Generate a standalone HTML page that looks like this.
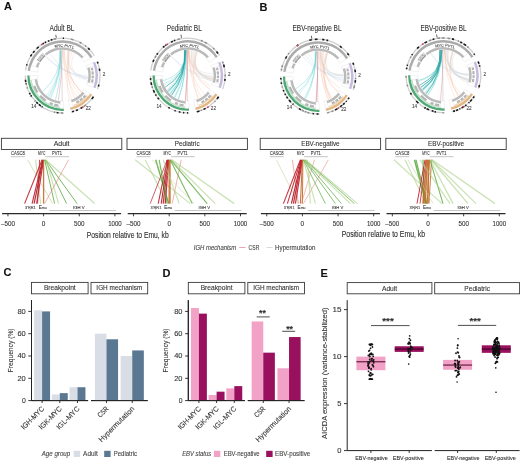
<!DOCTYPE html>
<html><head><meta charset="utf-8"><title>Figure</title>
<style>html,body{margin:0;padding:0;background:#fff;width:520px;height:462px;overflow:hidden;}svg{display:block;filter:blur(0.3px);}text{stroke:currentColor;stroke-width:0.1px;}</style>
</head><body>
<svg width="520" height="462" viewBox="0 0 520 462" font-family='"Liberation Sans", sans-serif'><text x="62" y="31" font-size="8.2" fill="#333" color="#333" text-anchor="middle" textLength="25" lengthAdjust="spacingAndGlyphs">Adult BL</text>
<path d="M25.56,70.39 A37.4,37.4 0 0 1 94.32,55.78" fill="none" stroke="#cfcfcf" stroke-width="1.3" stroke-linecap="butt"/>
<path d="M26.57,65.56 A37.4,37.4 0 0 1 27.00,64.14" fill="none" stroke="#1a1a1a" stroke-width="1.6" stroke-linecap="butt"/>
<path d="M30.47,56.45 A37.4,37.4 0 0 1 31.81,54.37" fill="none" stroke="#1a1a1a" stroke-width="1.6" stroke-linecap="butt"/>
<path d="M32.99,52.76 A37.4,37.4 0 0 1 34.51,50.91" fill="none" stroke="#1a1a1a" stroke-width="1.6" stroke-linecap="butt"/>
<path d="M36.67,48.64 A37.4,37.4 0 0 1 38.72,46.82" fill="none" stroke="#1a1a1a" stroke-width="1.6" stroke-linecap="butt"/>
<path d="M42.71,43.93 A37.4,37.4 0 0 1 43.91,43.20" fill="none" stroke="#1a1a1a" stroke-width="1.6" stroke-linecap="butt"/>
<path d="M44.82,42.70 A37.4,37.4 0 0 1 46.08,42.05" fill="none" stroke="#1a1a1a" stroke-width="1.6" stroke-linecap="butt"/>
<path d="M48.00,41.17 A37.4,37.4 0 0 1 49.33,40.63" fill="none" stroke="#1a1a1a" stroke-width="1.6" stroke-linecap="butt"/>
<path d="M50.72,40.14 A37.4,37.4 0 0 1 52.52,39.58" fill="none" stroke="#1a1a1a" stroke-width="1.6" stroke-linecap="butt"/>
<path d="M53.51,39.32 A37.4,37.4 0 0 1 56.07,38.77" fill="none" stroke="#8a8a8a" stroke-width="1.5" stroke-linecap="butt"/>
<path d="M62.77,38.20 A37.4,37.4 0 0 1 63.99,38.23" fill="none" stroke="#1a1a1a" stroke-width="1.6" stroke-linecap="butt"/>
<path d="M70.86,39.12 A37.4,37.4 0 0 1 73.38,39.79" fill="none" stroke="#8a8a8a" stroke-width="1.5" stroke-linecap="butt"/>
<path d="M79.60,42.29 A37.4,37.4 0 0 1 81.33,43.23" fill="none" stroke="#8a8a8a" stroke-width="1.5" stroke-linecap="butt"/>
<path d="M85.03,45.68 A37.4,37.4 0 0 1 86.07,46.48" fill="none" stroke="#8a8a8a" stroke-width="1.5" stroke-linecap="butt"/>
<path d="M88.03,48.18 A37.4,37.4 0 0 1 89.67,49.79" fill="none" stroke="#1a1a1a" stroke-width="1.6" stroke-linecap="butt"/>
<path d="M97.03,60.99 A37.4,37.4 0 0 1 97.52,89.00" fill="none" stroke="#cfcfcf" stroke-width="1.3" stroke-linecap="butt"/>
<path d="M97.40,61.89 A37.4,37.4 0 0 1 98.00,63.53" fill="none" stroke="#1a1a1a" stroke-width="1.6" stroke-linecap="butt"/>
<path d="M99.36,68.69 A37.4,37.4 0 0 1 99.69,70.81" fill="none" stroke="#1a1a1a" stroke-width="1.6" stroke-linecap="butt"/>
<path d="M98.90,84.60 A37.4,37.4 0 0 1 98.40,86.41" fill="none" stroke="#1a1a1a" stroke-width="1.6" stroke-linecap="butt"/>
<path d="M93.97,95.97 A37.4,37.4 0 0 1 71.01,112.04" fill="none" stroke="#cfcfcf" stroke-width="1.3" stroke-linecap="butt"/>
<path d="M93.42,96.78 A37.4,37.4 0 0 1 91.72,99.07" fill="none" stroke="#1a1a1a" stroke-width="1.6" stroke-linecap="butt"/>
<path d="M86.05,104.73 A37.4,37.4 0 0 1 84.00,106.27" fill="none" stroke="#8a8a8a" stroke-width="1.5" stroke-linecap="butt"/>
<path d="M82.11,107.51 A37.4,37.4 0 0 1 80.54,108.42" fill="none" stroke="#1a1a1a" stroke-width="1.6" stroke-linecap="butt"/>
<path d="M77.88,109.74 A37.4,37.4 0 0 1 75.95,110.54" fill="none" stroke="#1a1a1a" stroke-width="1.6" stroke-linecap="butt"/>
<path d="M73.93,111.24 A37.4,37.4 0 0 1 72.08,111.78" fill="none" stroke="#1a1a1a" stroke-width="1.6" stroke-linecap="butt"/>
<path d="M63.91,112.98 A37.4,37.4 0 0 1 25.20,75.60" fill="none" stroke="#cfcfcf" stroke-width="1.3" stroke-linecap="butt"/>
<path d="M62.93,113.00 A37.4,37.4 0 0 1 60.89,112.96" fill="none" stroke="#8a8a8a" stroke-width="1.5" stroke-linecap="butt"/>
<path d="M58.52,112.78 A37.4,37.4 0 0 1 56.66,112.53" fill="none" stroke="#1a1a1a" stroke-width="1.6" stroke-linecap="butt"/>
<path d="M55.18,112.26 A37.4,37.4 0 0 1 53.89,111.97" fill="none" stroke="#8a8a8a" stroke-width="1.5" stroke-linecap="butt"/>
<path d="M42.58,107.19 A37.4,37.4 0 0 1 41.63,106.57" fill="none" stroke="#1a1a1a" stroke-width="1.6" stroke-linecap="butt"/>
<path d="M40.80,105.99 A37.4,37.4 0 0 1 38.85,104.49" fill="none" stroke="#1a1a1a" stroke-width="1.6" stroke-linecap="butt"/>
<path d="M37.91,103.69 A37.4,37.4 0 0 1 36.30,102.19" fill="none" stroke="#1a1a1a" stroke-width="1.6" stroke-linecap="butt"/>
<path d="M35.50,101.38 A37.4,37.4 0 0 1 34.63,100.43" fill="none" stroke="#8a8a8a" stroke-width="1.5" stroke-linecap="butt"/>
<path d="M31.63,96.57 A37.4,37.4 0 0 1 30.76,95.21" fill="none" stroke="#1a1a1a" stroke-width="1.6" stroke-linecap="butt"/>
<path d="M30.23,94.33 A37.4,37.4 0 0 1 29.39,92.80" fill="none" stroke="#1a1a1a" stroke-width="1.6" stroke-linecap="butt"/>
<path d="M27.48,88.46 A37.4,37.4 0 0 1 27.03,87.15" fill="none" stroke="#8a8a8a" stroke-width="1.5" stroke-linecap="butt"/>
<path d="M26.25,84.41 A37.4,37.4 0 0 1 26.03,83.42" fill="none" stroke="#1a1a1a" stroke-width="1.6" stroke-linecap="butt"/>
<path d="M25.77,82.13 A37.4,37.4 0 0 1 25.43,79.77" fill="none" stroke="#1a1a1a" stroke-width="1.6" stroke-linecap="butt"/>
<path d="M41.15,44.96 A37.4,37.4 0 0 1 42.78,43.88" fill="none" stroke="#d04050" stroke-width="1.5" stroke-linecap="butt"/>
<path d="M83.51,106.61 A37.4,37.4 0 0 1 81.86,107.66" fill="none" stroke="#d04050" stroke-width="1.5" stroke-linecap="butt"/>
<line x1="56.30" y1="37.92" x2="55.77" y2="34.77" stroke="#222" stroke-width="0.7" stroke-linecap="butt"/>
<path d="M28.83,70.85 A34.1,34.1 0 0 1 91.52,57.53" fill="none" stroke="#ababab" stroke-width="2.5" stroke-linecap="butt"/>
<path d="M93.99,62.28 A34.1,34.1 0 0 1 94.44,87.82" fill="none" stroke="#c6bade" stroke-width="2.5" stroke-linecap="butt"/>
<path d="M91.20,94.17 A34.1,34.1 0 0 1 70.27,108.83" fill="none" stroke="#e2b682" stroke-width="2.5" stroke-linecap="butt"/>
<path d="M63.79,109.68 A34.1,34.1 0 0 1 28.50,75.60" fill="none" stroke="#4fa873" stroke-width="2.5" stroke-linecap="butt"/>
<path d="M63.16,107.60 A32.0,32.0 0 0 1 30.60,76.16" fill="none" stroke="#bfe3cb" stroke-width="1.7" stroke-linecap="butt"/>
<path d="M89.13,93.49 A32.0,32.0 0 0 1 73.54,105.67" fill="none" stroke="#f1d6b6" stroke-width="1.5" stroke-linecap="butt"/>
<text x="103.99" y="76.12" font-size="4.6" fill="#444" color="#444" text-anchor="middle">2</text>
<text x="88.21" y="109.98" font-size="4.6" fill="#444" color="#444" text-anchor="middle">22</text>
<text x="33.82" y="108.06" font-size="4.6" fill="#444" color="#444" text-anchor="middle">14</text>
<path d="M30.12,71.04 A32.800000000000004,32.800000000000004 0 0 1 31.41,65.46 L38.63,67.81 A25.2,25.2 0 0 0 37.65,72.09 Z" fill="#fff" stroke="#dadada" stroke-width="0.35"/>
<path d="M86.98,53.65 A32.800000000000004,32.800000000000004 0 0 1 90.42,58.22 L83.97,62.25 A25.2,25.2 0 0 0 81.33,58.74 Z" fill="#fff" stroke="#dadada" stroke-width="0.35"/>
<path d="M92.79,62.78 A32.800000000000004,32.800000000000004 0 0 1 93.97,66.01 L86.70,68.23 A25.2,25.2 0 0 0 85.80,65.75 Z" fill="#fff" stroke="#dadada" stroke-width="0.35"/>
<path d="M94.28,84.09 A32.800000000000004,32.800000000000004 0 0 1 93.22,87.35 L86.13,84.63 A25.2,25.2 0 0 0 86.94,82.12 Z" fill="#fff" stroke="#dadada" stroke-width="0.35"/>
<path d="M90.11,93.46 A32.800000000000004,32.800000000000004 0 0 1 88.09,96.24 L82.18,91.46 A25.2,25.2 0 0 0 83.73,89.32 Z" fill="#fff" stroke="#dadada" stroke-width="0.35"/>
<path d="M73.28,106.61 A32.800000000000004,32.800000000000004 0 0 1 69.98,107.56 L68.27,100.15 A25.2,25.2 0 0 0 70.80,99.43 Z" fill="#fff" stroke="#dadada" stroke-width="0.35"/>
<path d="M63.74,108.38 A32.800000000000004,32.800000000000004 0 0 1 59.74,108.28 L60.40,100.70 A25.2,25.2 0 0 0 63.48,100.78 Z" fill="#fff" stroke="#dadada" stroke-width="0.35"/>
<path d="M30.12,80.16 A32.800000000000004,32.800000000000004 0 0 1 29.80,75.60 L37.40,75.60 A25.2,25.2 0 0 0 37.65,79.11 Z" fill="#fff" stroke="#dadada" stroke-width="0.35"/>
<path d="M91.77,67.78 A30.2,30.2 0 0 1 92.34,70.36" fill="none" stroke="#b4b4b4" stroke-width="2.2" stroke-linecap="butt"/>
<path d="M92.51,71.40 A30.2,30.2 0 0 1 92.78,74.55" fill="none" stroke="#b4b4b4" stroke-width="2.2" stroke-linecap="butt"/>
<path d="M92.80,75.60 A30.2,30.2 0 0 1 92.69,78.23" fill="none" stroke="#b4b4b4" stroke-width="2.2" stroke-linecap="butt"/>
<path d="M92.57,79.28 A30.2,30.2 0 0 1 92.03,82.39" fill="none" stroke="#b4b4b4" stroke-width="2.2" stroke-linecap="butt"/>
<path d="M85.39,95.41 A30.2,30.2 0 0 1 83.20,97.69" fill="none" stroke="#b4b4b4" stroke-width="2.2" stroke-linecap="butt"/>
<path d="M82.41,98.39 A30.2,30.2 0 0 1 79.92,100.34" fill="none" stroke="#b4b4b4" stroke-width="2.2" stroke-linecap="butt"/>
<path d="M79.05,100.93 A30.2,30.2 0 0 1 76.31,102.51" fill="none" stroke="#b4b4b4" stroke-width="2.2" stroke-linecap="butt"/>
<path d="M58.40,105.51 A30.2,30.2 0 0 1 54.28,104.63" fill="none" stroke="#b4b4b4" stroke-width="2.2" stroke-linecap="butt"/>
<path d="M52.77,104.15 A30.2,30.2 0 0 1 49.84,102.97" fill="none" stroke="#b4b4b4" stroke-width="2.2" stroke-linecap="butt"/>
<path d="M45.71,100.64 A30.2,30.2 0 0 1 40.16,95.81" fill="none" stroke="#b4b4b4" stroke-width="2.2" stroke-linecap="butt"/>
<path d="M37.56,92.49 A30.2,30.2 0 0 1 34.22,85.93" fill="none" stroke="#b4b4b4" stroke-width="2.2" stroke-linecap="butt"/>
<path d="M38.60,61.18 A28.0,28.0 0 0 1 44.23,54.47" fill="none" stroke="#9e9e9e" stroke-width="4.2" stroke-linecap="butt"/>
<path d="M36.92,67.26 A27.0,27.0 0 0 1 38.99,62.51" fill="none" stroke="#bababa" stroke-width="2.5" stroke-linecap="butt"/>
<path d="M45.61,54.62 A27.0,27.0 0 0 1 82.66,57.53" fill="none" stroke="#bababa" stroke-width="2.5" stroke-linecap="butt"/>
<path d="M88.42,67.71 A27.0,27.0 0 0 1 88.68,82.59" fill="none" stroke="#bababa" stroke-width="2.5" stroke-linecap="butt"/>
<path d="M83.58,92.59 A27.0,27.0 0 0 1 71.39,101.13" fill="none" stroke="#bababa" stroke-width="2.5" stroke-linecap="butt"/>
<path d="M60.25,102.50 A27.0,27.0 0 0 1 35.86,79.36" fill="none" stroke="#bababa" stroke-width="2.5" stroke-linecap="butt"/>
<text x="58.97" y="47.22" font-size="3.8" fill="#444" color="#444" text-anchor="middle" transform="rotate(-7 58.97 47.22)">MYC</text>
<text x="68.8" y="47.65" font-size="3.8" fill="#444" color="#444" text-anchor="middle" transform="rotate(12 68.8 47.65)">PVT1</text>
<text x="41.15" y="58.7" font-size="3.3" fill="#f4f4f4" color="#f4f4f4" text-anchor="middle" transform="rotate(-50 41.15 58.7)">CASC8</text>
<path d="M68.56,50.91 Q64.47,74.29 87.83,78.50" fill="none" stroke="#d2d2d2" stroke-width="0.45" stroke-opacity="0.8"/>
<path d="M74.42,53.12 Q64.83,74.36 87.93,77.42" fill="none" stroke="#d2d2d2" stroke-width="0.45" stroke-opacity="0.8"/>
<path d="M69.27,51.09 Q64.51,74.32 87.80,78.82" fill="none" stroke="#d2d2d2" stroke-width="0.45" stroke-opacity="0.8"/>
<path d="M46.14,56.25 Q63.13,74.58 87.89,77.92" fill="none" stroke="#c2d4ea" stroke-width="0.45" stroke-opacity="0.8"/>
<path d="M50.19,53.44 Q63.35,74.56 87.55,80.39" fill="none" stroke="#c2d4ea" stroke-width="0.45" stroke-opacity="0.8"/>
<path d="M45.39,56.92 Q63.09,74.51 88.00,76.07" fill="none" stroke="#c2d4ea" stroke-width="0.45" stroke-opacity="0.8"/>
<path d="M63.48,50.22 Q63.20,75.50 71.64,99.34" fill="none" stroke="#f4ad8e" stroke-width="0.4" stroke-opacity="0.6"/>
<path d="M69.28,51.10 Q64.14,75.14 81.62,92.43" fill="none" stroke="#f4ad8e" stroke-width="0.4" stroke-opacity="0.6"/>
<path d="M71.95,51.99 Q63.56,75.65 69.29,100.10" fill="none" stroke="#f4ad8e" stroke-width="0.4" stroke-opacity="0.6"/>
<path d="M68.91,51.00 Q63.69,75.47 74.46,98.06" fill="none" stroke="#f4ad8e" stroke-width="0.4" stroke-opacity="0.6"/>
<path d="M64.14,50.25 Q63.85,75.07 81.90,92.11" fill="none" stroke="#f4ad8e" stroke-width="0.4" stroke-opacity="0.6"/>
<path d="M67.72,50.72 Q64.04,75.13 81.43,92.64" fill="none" stroke="#f4ad8e" stroke-width="0.4" stroke-opacity="0.6"/>
<path d="M64.45,50.27 Q63.72,75.23 79.36,94.69" fill="none" stroke="#f4ad8e" stroke-width="0.4" stroke-opacity="0.6"/>
<path d="M62.89,50.20 Q63.45,75.35 76.54,96.83" fill="none" stroke="#f4ad8e" stroke-width="0.4" stroke-opacity="0.6"/>
<path d="M60.23,50.31 Q61.27,75.04 42.80,91.51" fill="none" stroke="#58cdd0" stroke-width="0.6" stroke-opacity="0.65"/>
<path d="M59.68,50.37 Q61.72,75.44 50.81,98.10" fill="none" stroke="#58cdd0" stroke-width="0.35" stroke-opacity="0.65"/>
<path d="M60.82,50.26 Q61.63,75.33 48.15,96.49" fill="none" stroke="#58cdd0" stroke-width="0.45" stroke-opacity="0.65"/>
<path d="M60.14,50.32 Q61.50,75.27 46.72,95.42" fill="none" stroke="#58cdd0" stroke-width="0.35" stroke-opacity="0.65"/>
<path d="M60.94,50.25 Q61.77,75.42 50.46,97.91" fill="none" stroke="#58cdd0" stroke-width="0.35" stroke-opacity="0.65"/>
<path d="M60.42,50.29 Q62.04,75.54 55.48,99.98" fill="none" stroke="#58cdd0" stroke-width="0.6" stroke-opacity="0.65"/>
<path d="M61.09,50.24 Q61.70,75.37 49.06,97.09" fill="none" stroke="#58cdd0" stroke-width="0.45" stroke-opacity="0.65"/>
<path d="M62.40,50.20 Q62.33,75.58 58.34,100.64" fill="none" stroke="#ec8e96" stroke-width="0.6" stroke-opacity="0.8"/>
<path d="M61.05,50.25 Q62.48,75.60 62.16,101.00" fill="none" stroke="#9a9a9a" stroke-width="0.5" stroke-opacity="0.7"/>
<text x="184.3" y="31" font-size="8.2" fill="#333" color="#333" text-anchor="middle" textLength="35" lengthAdjust="spacingAndGlyphs">Pediatric BL</text>
<path d="M150.76,70.29 A37.4,37.4 0 0 1 219.52,55.68" fill="none" stroke="#cfcfcf" stroke-width="1.3" stroke-linecap="butt"/>
<path d="M152.98,61.86 A37.4,37.4 0 0 1 153.88,59.75" fill="none" stroke="#1a1a1a" stroke-width="1.6" stroke-linecap="butt"/>
<path d="M154.94,57.64 A37.4,37.4 0 0 1 156.03,55.77" fill="none" stroke="#8a8a8a" stroke-width="1.5" stroke-linecap="butt"/>
<path d="M156.76,54.64 A37.4,37.4 0 0 1 157.81,53.15" fill="none" stroke="#1a1a1a" stroke-width="1.6" stroke-linecap="butt"/>
<path d="M163.07,47.44 A37.4,37.4 0 0 1 164.49,46.25" fill="none" stroke="#1a1a1a" stroke-width="1.6" stroke-linecap="butt"/>
<path d="M165.33,45.60 A37.4,37.4 0 0 1 166.16,44.99" fill="none" stroke="#1a1a1a" stroke-width="1.6" stroke-linecap="butt"/>
<path d="M170.97,42.10 A37.4,37.4 0 0 1 172.85,41.22" fill="none" stroke="#1a1a1a" stroke-width="1.6" stroke-linecap="butt"/>
<path d="M173.80,40.82 A37.4,37.4 0 0 1 175.31,40.25" fill="none" stroke="#1a1a1a" stroke-width="1.6" stroke-linecap="butt"/>
<path d="M177.35,39.59 A37.4,37.4 0 0 1 180.20,38.88" fill="none" stroke="#8a8a8a" stroke-width="1.5" stroke-linecap="butt"/>
<path d="M200.93,40.48 A37.4,37.4 0 0 1 202.68,41.19" fill="none" stroke="#8a8a8a" stroke-width="1.5" stroke-linecap="butt"/>
<path d="M204.58,42.08 A37.4,37.4 0 0 1 207.02,43.42" fill="none" stroke="#8a8a8a" stroke-width="1.5" stroke-linecap="butt"/>
<path d="M213.09,47.95 A37.4,37.4 0 0 1 214.45,49.26" fill="none" stroke="#8a8a8a" stroke-width="1.5" stroke-linecap="butt"/>
<path d="M216.52,51.54 A37.4,37.4 0 0 1 217.99,53.43" fill="none" stroke="#1a1a1a" stroke-width="1.6" stroke-linecap="butt"/>
<path d="M222.23,60.89 A37.4,37.4 0 0 1 222.72,88.90" fill="none" stroke="#cfcfcf" stroke-width="1.3" stroke-linecap="butt"/>
<path d="M222.60,61.79 A37.4,37.4 0 0 1 223.16,63.31" fill="none" stroke="#8a8a8a" stroke-width="1.5" stroke-linecap="butt"/>
<path d="M223.58,64.60 A37.4,37.4 0 0 1 224.28,67.26" fill="none" stroke="#1a1a1a" stroke-width="1.6" stroke-linecap="butt"/>
<path d="M225.18,74.44 A37.4,37.4 0 0 1 225.19,76.40" fill="none" stroke="#8a8a8a" stroke-width="1.5" stroke-linecap="butt"/>
<path d="M225.05,78.86 A37.4,37.4 0 0 1 224.80,80.98" fill="none" stroke="#1a1a1a" stroke-width="1.6" stroke-linecap="butt"/>
<path d="M219.17,95.87 A37.4,37.4 0 0 1 196.21,111.94" fill="none" stroke="#cfcfcf" stroke-width="1.3" stroke-linecap="butt"/>
<path d="M218.62,96.68 A37.4,37.4 0 0 1 216.98,98.90" fill="none" stroke="#1a1a1a" stroke-width="1.6" stroke-linecap="butt"/>
<path d="M215.23,100.93 A37.4,37.4 0 0 1 214.47,101.72" fill="none" stroke="#8a8a8a" stroke-width="1.5" stroke-linecap="butt"/>
<path d="M205.62,108.38 A37.4,37.4 0 0 1 203.49,109.45" fill="none" stroke="#1a1a1a" stroke-width="1.6" stroke-linecap="butt"/>
<path d="M201.83,110.17 A37.4,37.4 0 0 1 200.60,110.64" fill="none" stroke="#8a8a8a" stroke-width="1.5" stroke-linecap="butt"/>
<path d="M199.50,111.02 A37.4,37.4 0 0 1 196.85,111.79" fill="none" stroke="#1a1a1a" stroke-width="1.6" stroke-linecap="butt"/>
<path d="M189.11,112.88 A37.4,37.4 0 0 1 150.40,75.50" fill="none" stroke="#cfcfcf" stroke-width="1.3" stroke-linecap="butt"/>
<path d="M188.13,112.90 A37.4,37.4 0 0 1 187.11,112.89" fill="none" stroke="#1a1a1a" stroke-width="1.6" stroke-linecap="butt"/>
<path d="M184.27,112.73 A37.4,37.4 0 0 1 183.00,112.59" fill="none" stroke="#1a1a1a" stroke-width="1.6" stroke-linecap="butt"/>
<path d="M180.47,112.17 A37.4,37.4 0 0 1 178.78,111.80" fill="none" stroke="#1a1a1a" stroke-width="1.6" stroke-linecap="butt"/>
<path d="M175.67,110.88 A37.4,37.4 0 0 1 174.47,110.44" fill="none" stroke="#1a1a1a" stroke-width="1.6" stroke-linecap="butt"/>
<path d="M169.77,108.27 A37.4,37.4 0 0 1 168.35,107.44" fill="none" stroke="#1a1a1a" stroke-width="1.6" stroke-linecap="butt"/>
<path d="M158.90,99.24 A37.4,37.4 0 0 1 157.73,97.74" fill="none" stroke="#1a1a1a" stroke-width="1.6" stroke-linecap="butt"/>
<path d="M156.32,95.69 A37.4,37.4 0 0 1 155.48,94.33" fill="none" stroke="#1a1a1a" stroke-width="1.6" stroke-linecap="butt"/>
<path d="M154.52,92.57 A37.4,37.4 0 0 1 153.38,90.13" fill="none" stroke="#1a1a1a" stroke-width="1.6" stroke-linecap="butt"/>
<path d="M152.54,87.97 A37.4,37.4 0 0 1 152.00,86.31" fill="none" stroke="#8a8a8a" stroke-width="1.5" stroke-linecap="butt"/>
<path d="M151.64,85.05 A37.4,37.4 0 0 1 151.02,82.27" fill="none" stroke="#1a1a1a" stroke-width="1.6" stroke-linecap="butt"/>
<path d="M150.66,79.93 A37.4,37.4 0 0 1 150.49,78.14" fill="none" stroke="#1a1a1a" stroke-width="1.6" stroke-linecap="butt"/>
<path d="M166.35,44.86 A37.4,37.4 0 0 1 167.98,43.78" fill="none" stroke="#d04050" stroke-width="1.5" stroke-linecap="butt"/>
<path d="M208.71,106.51 A37.4,37.4 0 0 1 207.06,107.56" fill="none" stroke="#d04050" stroke-width="1.5" stroke-linecap="butt"/>
<line x1="181.50" y1="37.82" x2="180.97" y2="34.67" stroke="#222" stroke-width="0.7" stroke-linecap="butt"/>
<path d="M154.03,70.75 A34.1,34.1 0 0 1 216.72,57.43" fill="none" stroke="#ababab" stroke-width="2.5" stroke-linecap="butt"/>
<path d="M219.19,62.18 A34.1,34.1 0 0 1 219.64,87.72" fill="none" stroke="#c6bade" stroke-width="2.5" stroke-linecap="butt"/>
<path d="M216.40,94.07 A34.1,34.1 0 0 1 195.47,108.73" fill="none" stroke="#e2b682" stroke-width="2.5" stroke-linecap="butt"/>
<path d="M188.99,109.58 A34.1,34.1 0 0 1 153.70,75.50" fill="none" stroke="#4fa873" stroke-width="2.5" stroke-linecap="butt"/>
<path d="M188.36,107.50 A32.0,32.0 0 0 1 155.80,76.06" fill="none" stroke="#bfe3cb" stroke-width="1.7" stroke-linecap="butt"/>
<path d="M214.33,93.39 A32.0,32.0 0 0 1 198.74,105.57" fill="none" stroke="#f1d6b6" stroke-width="1.5" stroke-linecap="butt"/>
<text x="229.19" y="76.02" font-size="4.6" fill="#444" color="#444" text-anchor="middle">2</text>
<text x="213.41" y="109.88" font-size="4.6" fill="#444" color="#444" text-anchor="middle">22</text>
<text x="159.02" y="107.96" font-size="4.6" fill="#444" color="#444" text-anchor="middle">14</text>
<path d="M155.32,70.94 A32.800000000000004,32.800000000000004 0 0 1 156.61,65.36 L163.83,67.71 A25.2,25.2 0 0 0 162.85,71.99 Z" fill="#fff" stroke="#dadada" stroke-width="0.35"/>
<path d="M212.18,53.55 A32.800000000000004,32.800000000000004 0 0 1 215.62,58.12 L209.17,62.15 A25.2,25.2 0 0 0 206.53,58.64 Z" fill="#fff" stroke="#dadada" stroke-width="0.35"/>
<path d="M217.99,62.68 A32.800000000000004,32.800000000000004 0 0 1 219.17,65.91 L211.90,68.13 A25.2,25.2 0 0 0 211.00,65.65 Z" fill="#fff" stroke="#dadada" stroke-width="0.35"/>
<path d="M219.48,83.99 A32.800000000000004,32.800000000000004 0 0 1 218.42,87.25 L211.33,84.53 A25.2,25.2 0 0 0 212.14,82.02 Z" fill="#fff" stroke="#dadada" stroke-width="0.35"/>
<path d="M215.31,93.36 A32.800000000000004,32.800000000000004 0 0 1 213.29,96.14 L207.38,91.36 A25.2,25.2 0 0 0 208.93,89.22 Z" fill="#fff" stroke="#dadada" stroke-width="0.35"/>
<path d="M198.48,106.51 A32.800000000000004,32.800000000000004 0 0 1 195.18,107.46 L193.47,100.05 A25.2,25.2 0 0 0 196.00,99.33 Z" fill="#fff" stroke="#dadada" stroke-width="0.35"/>
<path d="M188.94,108.28 A32.800000000000004,32.800000000000004 0 0 1 184.94,108.18 L185.60,100.60 A25.2,25.2 0 0 0 188.68,100.68 Z" fill="#fff" stroke="#dadada" stroke-width="0.35"/>
<path d="M155.32,80.06 A32.800000000000004,32.800000000000004 0 0 1 155.00,75.50 L162.60,75.50 A25.2,25.2 0 0 0 162.85,79.01 Z" fill="#fff" stroke="#dadada" stroke-width="0.35"/>
<path d="M216.97,67.68 A30.2,30.2 0 0 1 217.54,70.26" fill="none" stroke="#b4b4b4" stroke-width="2.2" stroke-linecap="butt"/>
<path d="M217.71,71.30 A30.2,30.2 0 0 1 217.98,74.45" fill="none" stroke="#b4b4b4" stroke-width="2.2" stroke-linecap="butt"/>
<path d="M218.00,75.50 A30.2,30.2 0 0 1 217.89,78.13" fill="none" stroke="#b4b4b4" stroke-width="2.2" stroke-linecap="butt"/>
<path d="M217.77,79.18 A30.2,30.2 0 0 1 217.23,82.29" fill="none" stroke="#b4b4b4" stroke-width="2.2" stroke-linecap="butt"/>
<path d="M210.59,95.31 A30.2,30.2 0 0 1 208.40,97.59" fill="none" stroke="#b4b4b4" stroke-width="2.2" stroke-linecap="butt"/>
<path d="M207.61,98.29 A30.2,30.2 0 0 1 205.12,100.24" fill="none" stroke="#b4b4b4" stroke-width="2.2" stroke-linecap="butt"/>
<path d="M204.25,100.83 A30.2,30.2 0 0 1 201.51,102.41" fill="none" stroke="#b4b4b4" stroke-width="2.2" stroke-linecap="butt"/>
<path d="M183.60,105.41 A30.2,30.2 0 0 1 179.48,104.53" fill="none" stroke="#b4b4b4" stroke-width="2.2" stroke-linecap="butt"/>
<path d="M177.97,104.05 A30.2,30.2 0 0 1 175.04,102.87" fill="none" stroke="#b4b4b4" stroke-width="2.2" stroke-linecap="butt"/>
<path d="M170.91,100.54 A30.2,30.2 0 0 1 165.36,95.71" fill="none" stroke="#b4b4b4" stroke-width="2.2" stroke-linecap="butt"/>
<path d="M162.76,92.39 A30.2,30.2 0 0 1 159.42,85.83" fill="none" stroke="#b4b4b4" stroke-width="2.2" stroke-linecap="butt"/>
<path d="M163.80,61.08 A28.0,28.0 0 0 1 169.43,54.37" fill="none" stroke="#9e9e9e" stroke-width="4.2" stroke-linecap="butt"/>
<path d="M162.12,67.16 A27.0,27.0 0 0 1 164.19,62.41" fill="none" stroke="#bababa" stroke-width="2.5" stroke-linecap="butt"/>
<path d="M170.81,54.52 A27.0,27.0 0 0 1 207.86,57.43" fill="none" stroke="#bababa" stroke-width="2.5" stroke-linecap="butt"/>
<path d="M213.62,67.61 A27.0,27.0 0 0 1 213.88,82.49" fill="none" stroke="#bababa" stroke-width="2.5" stroke-linecap="butt"/>
<path d="M208.78,92.49 A27.0,27.0 0 0 1 196.59,101.03" fill="none" stroke="#bababa" stroke-width="2.5" stroke-linecap="butt"/>
<path d="M185.45,102.40 A27.0,27.0 0 0 1 161.06,79.26" fill="none" stroke="#bababa" stroke-width="2.5" stroke-linecap="butt"/>
<text x="184.17" y="47.12" font-size="3.8" fill="#444" color="#444" text-anchor="middle" transform="rotate(-7 184.17 47.12)">MYC</text>
<text x="194.0" y="47.55" font-size="3.8" fill="#444" color="#444" text-anchor="middle" transform="rotate(12 194.0 47.55)">PVT1</text>
<text x="166.35" y="58.6" font-size="3.3" fill="#f4f4f4" color="#f4f4f4" text-anchor="middle" transform="rotate(-50 166.35 58.6)">CASC8</text>
<path d="M194.05,50.88 Q189.68,74.26 212.88,79.51" fill="none" stroke="#d2d2d2" stroke-width="0.45" stroke-opacity="0.8"/>
<path d="M196.48,51.63 Q189.84,73.95 213.13,73.60" fill="none" stroke="#d2d2d2" stroke-width="0.45" stroke-opacity="0.8"/>
<path d="M187.94,50.10 Q189.33,74.02 213.19,76.27" fill="none" stroke="#d2d2d2" stroke-width="0.45" stroke-opacity="0.8"/>
<path d="M191.43,50.36 Q189.50,74.34 212.54,81.24" fill="none" stroke="#d2d2d2" stroke-width="0.45" stroke-opacity="0.8"/>
<path d="M196.79,51.74 Q189.85,74.28 212.97,78.88" fill="none" stroke="#d2d2d2" stroke-width="0.45" stroke-opacity="0.8"/>
<path d="M195.12,51.18 Q189.74,74.28 212.87,79.56" fill="none" stroke="#d2d2d2" stroke-width="0.45" stroke-opacity="0.8"/>
<path d="M171.01,56.44 Q188.31,74.46 213.14,77.18" fill="none" stroke="#c2d4ea" stroke-width="0.45" stroke-opacity="0.8"/>
<path d="M171.16,56.31 Q188.29,74.69 212.54,81.27" fill="none" stroke="#c2d4ea" stroke-width="0.45" stroke-opacity="0.8"/>
<path d="M188.37,50.11 Q188.64,75.27 201.18,97.09" fill="none" stroke="#f4ad8e" stroke-width="0.4" stroke-opacity="0.6"/>
<path d="M188.53,50.11 Q188.83,75.14 204.24,94.86" fill="none" stroke="#f4ad8e" stroke-width="0.4" stroke-opacity="0.6"/>
<path d="M191.08,50.31 Q189.30,74.78 209.50,88.70" fill="none" stroke="#f4ad8e" stroke-width="0.4" stroke-opacity="0.6"/>
<path d="M195.87,51.42 Q189.80,74.22 213.05,78.25" fill="none" stroke="#f4ad8e" stroke-width="0.4" stroke-opacity="0.6"/>
<path d="M188.39,50.11 Q188.49,75.35 198.74,98.42" fill="none" stroke="#f4ad8e" stroke-width="0.4" stroke-opacity="0.6"/>
<path d="M192.73,50.58 Q189.59,74.29 212.74,80.31" fill="none" stroke="#f4ad8e" stroke-width="0.4" stroke-opacity="0.6"/>
<path d="M197.20,51.90 Q188.97,75.48 197.91,98.80" fill="none" stroke="#f4ad8e" stroke-width="0.4" stroke-opacity="0.6"/>
<path d="M188.90,50.12 Q189.15,74.80 209.22,89.15" fill="none" stroke="#f4ad8e" stroke-width="0.4" stroke-opacity="0.6"/>
<path d="M189.12,50.13 Q189.26,74.63 210.76,86.36" fill="none" stroke="#f4ad8e" stroke-width="0.4" stroke-opacity="0.6"/>
<path d="M185.91,50.17 Q186.92,75.30 175.05,97.47" fill="none" stroke="#58cdd0" stroke-width="0.6" stroke-opacity="0.65"/>
<path d="M186.61,50.13 Q186.49,74.86 167.14,90.28" fill="none" stroke="#58cdd0" stroke-width="0.6" stroke-opacity="0.65"/>
<path d="M186.42,50.14 Q186.64,75.06 169.89,93.51" fill="none" stroke="#58cdd0" stroke-width="0.45" stroke-opacity="0.65"/>
<path d="M186.03,50.16 Q186.54,74.98 168.60,92.13" fill="none" stroke="#58cdd0" stroke-width="0.6" stroke-opacity="0.65"/>
<path d="M185.28,50.23 Q187.08,75.40 178.33,99.07" fill="none" stroke="#58cdd0" stroke-width="0.6" stroke-opacity="0.65"/>
<path d="M184.48,50.32 Q186.80,75.28 174.38,97.06" fill="none" stroke="#58cdd0" stroke-width="0.6" stroke-opacity="0.65"/>
<path d="M184.96,50.26 Q186.14,74.29 162.92,80.63" fill="none" stroke="#58cdd0" stroke-width="0.6" stroke-opacity="0.65"/>
<path d="M185.28,50.22 Q186.69,75.16 171.74,95.18" fill="none" stroke="#58cdd0" stroke-width="0.45" stroke-opacity="0.65"/>
<path d="M184.88,50.27 Q186.59,75.11 170.63,94.22" fill="none" stroke="#58cdd0" stroke-width="0.6" stroke-opacity="0.65"/>
<path d="M185.78,50.18 Q186.27,74.57 164.34,85.25" fill="none" stroke="#58cdd0" stroke-width="0.35" stroke-opacity="0.65"/>
<path d="M184.34,50.34 Q186.15,74.49 163.78,83.77" fill="none" stroke="#58cdd0" stroke-width="0.45" stroke-opacity="0.65"/>
<path d="M184.35,50.34 Q187.03,75.41 178.45,99.12" fill="none" stroke="#58cdd0" stroke-width="0.6" stroke-opacity="0.65"/>
<path d="M185.39,50.21 Q186.60,75.08 170.13,93.75" fill="none" stroke="#58cdd0" stroke-width="0.6" stroke-opacity="0.65"/>
<path d="M184.54,50.31 Q186.37,74.88 167.23,90.39" fill="none" stroke="#58cdd0" stroke-width="0.35" stroke-opacity="0.65"/>
<path d="M184.44,50.32 Q186.63,75.17 171.73,95.17" fill="none" stroke="#2a9f9c" stroke-width="0.85" stroke-opacity="0.8"/>
<path d="M185.22,50.23 Q186.46,74.94 168.09,91.52" fill="none" stroke="#2a9f9c" stroke-width="0.85" stroke-opacity="0.8"/>
<path d="M185.59,50.20 Q186.31,74.68 165.22,87.13" fill="none" stroke="#2a9f9c" stroke-width="0.85" stroke-opacity="0.8"/>
<path d="M187.82,50.10 Q187.67,75.49 185.61,100.81" fill="none" stroke="#ec8e96" stroke-width="0.6" stroke-opacity="0.8"/>
<path d="M187.52,50.10 Q187.63,75.49 185.30,100.78" fill="none" stroke="#ec8e96" stroke-width="0.6" stroke-opacity="0.8"/>
<path d="M186.25,50.15 Q187.68,75.50 187.36,100.90" fill="none" stroke="#9a9a9a" stroke-width="0.5" stroke-opacity="0.7"/>
<text x="317" y="31" font-size="8.2" fill="#333" color="#333" text-anchor="middle" textLength="49" lengthAdjust="spacingAndGlyphs">EBV-negative BL</text>
<path d="M281.16,71.39 A37.4,37.4 0 0 1 349.92,56.78" fill="none" stroke="#cfcfcf" stroke-width="1.3" stroke-linecap="butt"/>
<path d="M281.31,70.43 A37.4,37.4 0 0 1 281.58,69.01" fill="none" stroke="#8a8a8a" stroke-width="1.5" stroke-linecap="butt"/>
<path d="M281.99,67.23 A37.4,37.4 0 0 1 282.59,65.15" fill="none" stroke="#8a8a8a" stroke-width="1.5" stroke-linecap="butt"/>
<path d="M285.44,58.56 A37.4,37.4 0 0 1 286.78,56.31" fill="none" stroke="#1a1a1a" stroke-width="1.6" stroke-linecap="butt"/>
<path d="M288.17,54.31 A37.4,37.4 0 0 1 288.95,53.30" fill="none" stroke="#8a8a8a" stroke-width="1.5" stroke-linecap="butt"/>
<path d="M296.89,45.87 A37.4,37.4 0 0 1 298.20,45.00" fill="none" stroke="#1a1a1a" stroke-width="1.6" stroke-linecap="butt"/>
<path d="M309.29,40.28 A37.4,37.4 0 0 1 311.78,39.75" fill="none" stroke="#1a1a1a" stroke-width="1.6" stroke-linecap="butt"/>
<path d="M314.87,39.35 A37.4,37.4 0 0 1 317.57,39.21" fill="none" stroke="#1a1a1a" stroke-width="1.6" stroke-linecap="butt"/>
<path d="M322.23,39.42 A37.4,37.4 0 0 1 324.41,39.72" fill="none" stroke="#1a1a1a" stroke-width="1.6" stroke-linecap="butt"/>
<path d="M326.51,40.13 A37.4,37.4 0 0 1 328.19,40.56" fill="none" stroke="#1a1a1a" stroke-width="1.6" stroke-linecap="butt"/>
<path d="M339.89,46.13 A37.4,37.4 0 0 1 341.71,47.51" fill="none" stroke="#1a1a1a" stroke-width="1.6" stroke-linecap="butt"/>
<path d="M347.41,53.24 A37.4,37.4 0 0 1 348.83,55.14" fill="none" stroke="#1a1a1a" stroke-width="1.6" stroke-linecap="butt"/>
<path d="M352.63,61.99 A37.4,37.4 0 0 1 353.12,90.00" fill="none" stroke="#cfcfcf" stroke-width="1.3" stroke-linecap="butt"/>
<path d="M353.00,62.89 A37.4,37.4 0 0 1 353.71,64.87" fill="none" stroke="#1a1a1a" stroke-width="1.6" stroke-linecap="butt"/>
<path d="M354.95,69.67 A37.4,37.4 0 0 1 355.34,72.18" fill="none" stroke="#1a1a1a" stroke-width="1.6" stroke-linecap="butt"/>
<path d="M355.57,78.02 A37.4,37.4 0 0 1 355.52,79.09" fill="none" stroke="#8a8a8a" stroke-width="1.5" stroke-linecap="butt"/>
<path d="M355.43,80.17 A37.4,37.4 0 0 1 355.13,82.53" fill="none" stroke="#1a1a1a" stroke-width="1.6" stroke-linecap="butt"/>
<path d="M354.53,85.46 A37.4,37.4 0 0 1 353.74,88.25" fill="none" stroke="#8a8a8a" stroke-width="1.5" stroke-linecap="butt"/>
<path d="M349.57,96.97 A37.4,37.4 0 0 1 326.61,113.04" fill="none" stroke="#cfcfcf" stroke-width="1.3" stroke-linecap="butt"/>
<path d="M349.02,97.78 A37.4,37.4 0 0 1 348.10,99.07" fill="none" stroke="#1a1a1a" stroke-width="1.6" stroke-linecap="butt"/>
<path d="M346.63,100.90 A37.4,37.4 0 0 1 345.94,101.68" fill="none" stroke="#1a1a1a" stroke-width="1.6" stroke-linecap="butt"/>
<path d="M344.62,103.07 A37.4,37.4 0 0 1 343.04,104.56" fill="none" stroke="#1a1a1a" stroke-width="1.6" stroke-linecap="butt"/>
<path d="M342.23,105.26 A37.4,37.4 0 0 1 340.11,106.91" fill="none" stroke="#1a1a1a" stroke-width="1.6" stroke-linecap="butt"/>
<path d="M337.47,108.65 A37.4,37.4 0 0 1 335.08,109.98" fill="none" stroke="#1a1a1a" stroke-width="1.6" stroke-linecap="butt"/>
<path d="M333.24,110.84 A37.4,37.4 0 0 1 331.39,111.60" fill="none" stroke="#8a8a8a" stroke-width="1.5" stroke-linecap="butt"/>
<path d="M329.18,112.35 A37.4,37.4 0 0 1 327.25,112.89" fill="none" stroke="#8a8a8a" stroke-width="1.5" stroke-linecap="butt"/>
<path d="M319.51,113.98 A37.4,37.4 0 0 1 280.80,76.60" fill="none" stroke="#cfcfcf" stroke-width="1.3" stroke-linecap="butt"/>
<path d="M318.53,114.00 A37.4,37.4 0 0 1 316.55,113.96" fill="none" stroke="#1a1a1a" stroke-width="1.6" stroke-linecap="butt"/>
<path d="M313.94,113.76 A37.4,37.4 0 0 1 312.51,113.56" fill="none" stroke="#1a1a1a" stroke-width="1.6" stroke-linecap="butt"/>
<path d="M309.36,112.94 A37.4,37.4 0 0 1 307.43,112.41" fill="none" stroke="#8a8a8a" stroke-width="1.5" stroke-linecap="butt"/>
<path d="M306.47,112.11 A37.4,37.4 0 0 1 304.78,111.51" fill="none" stroke="#8a8a8a" stroke-width="1.5" stroke-linecap="butt"/>
<path d="M303.83,111.13 A37.4,37.4 0 0 1 301.84,110.23" fill="none" stroke="#8a8a8a" stroke-width="1.5" stroke-linecap="butt"/>
<path d="M300.84,109.73 A37.4,37.4 0 0 1 298.92,108.65" fill="none" stroke="#1a1a1a" stroke-width="1.6" stroke-linecap="butt"/>
<path d="M293.39,104.59 A37.4,37.4 0 0 1 292.64,103.90" fill="none" stroke="#1a1a1a" stroke-width="1.6" stroke-linecap="butt"/>
<path d="M290.85,102.11 A37.4,37.4 0 0 1 288.98,99.94" fill="none" stroke="#1a1a1a" stroke-width="1.6" stroke-linecap="butt"/>
<path d="M287.76,98.33 A37.4,37.4 0 0 1 286.57,96.56" fill="none" stroke="#1a1a1a" stroke-width="1.6" stroke-linecap="butt"/>
<path d="M285.64,95.00 A37.4,37.4 0 0 1 284.89,93.60" fill="none" stroke="#1a1a1a" stroke-width="1.6" stroke-linecap="butt"/>
<path d="M283.89,91.48 A37.4,37.4 0 0 1 283.30,90.03" fill="none" stroke="#1a1a1a" stroke-width="1.6" stroke-linecap="butt"/>
<path d="M282.41,87.44 A37.4,37.4 0 0 1 282.12,86.45" fill="none" stroke="#8a8a8a" stroke-width="1.5" stroke-linecap="butt"/>
<path d="M281.51,83.86 A37.4,37.4 0 0 1 281.24,82.30" fill="none" stroke="#1a1a1a" stroke-width="1.6" stroke-linecap="butt"/>
<path d="M280.91,79.50 A37.4,37.4 0 0 1 280.83,78.06" fill="none" stroke="#1a1a1a" stroke-width="1.6" stroke-linecap="butt"/>
<path d="M296.75,45.96 A37.4,37.4 0 0 1 298.38,44.88" fill="none" stroke="#d04050" stroke-width="1.5" stroke-linecap="butt"/>
<path d="M339.11,107.61 A37.4,37.4 0 0 1 337.46,108.66" fill="none" stroke="#d04050" stroke-width="1.5" stroke-linecap="butt"/>
<line x1="311.90" y1="38.92" x2="311.37" y2="35.77" stroke="#222" stroke-width="0.7" stroke-linecap="butt"/>
<path d="M284.43,71.85 A34.1,34.1 0 0 1 347.12,58.53" fill="none" stroke="#ababab" stroke-width="2.5" stroke-linecap="butt"/>
<path d="M349.59,63.28 A34.1,34.1 0 0 1 350.04,88.82" fill="none" stroke="#c6bade" stroke-width="2.5" stroke-linecap="butt"/>
<path d="M346.80,95.17 A34.1,34.1 0 0 1 325.87,109.83" fill="none" stroke="#e2b682" stroke-width="2.5" stroke-linecap="butt"/>
<path d="M319.39,110.68 A34.1,34.1 0 0 1 284.10,76.60" fill="none" stroke="#4fa873" stroke-width="2.5" stroke-linecap="butt"/>
<path d="M318.76,108.60 A32.0,32.0 0 0 1 286.20,77.16" fill="none" stroke="#bfe3cb" stroke-width="1.7" stroke-linecap="butt"/>
<path d="M344.73,94.49 A32.0,32.0 0 0 1 329.14,106.67" fill="none" stroke="#f1d6b6" stroke-width="1.5" stroke-linecap="butt"/>
<text x="359.59" y="77.12" font-size="4.6" fill="#444" color="#444" text-anchor="middle">2</text>
<text x="343.81" y="110.98" font-size="4.6" fill="#444" color="#444" text-anchor="middle">22</text>
<text x="289.42" y="109.06" font-size="4.6" fill="#444" color="#444" text-anchor="middle">14</text>
<path d="M285.72,72.04 A32.800000000000004,32.800000000000004 0 0 1 287.01,66.46 L294.23,68.81 A25.2,25.2 0 0 0 293.25,73.09 Z" fill="#fff" stroke="#dadada" stroke-width="0.35"/>
<path d="M342.58,54.65 A32.800000000000004,32.800000000000004 0 0 1 346.02,59.22 L339.57,63.25 A25.2,25.2 0 0 0 336.93,59.74 Z" fill="#fff" stroke="#dadada" stroke-width="0.35"/>
<path d="M348.39,63.78 A32.800000000000004,32.800000000000004 0 0 1 349.57,67.01 L342.30,69.23 A25.2,25.2 0 0 0 341.40,66.75 Z" fill="#fff" stroke="#dadada" stroke-width="0.35"/>
<path d="M349.88,85.09 A32.800000000000004,32.800000000000004 0 0 1 348.82,88.35 L341.73,85.63 A25.2,25.2 0 0 0 342.54,83.12 Z" fill="#fff" stroke="#dadada" stroke-width="0.35"/>
<path d="M345.71,94.46 A32.800000000000004,32.800000000000004 0 0 1 343.69,97.24 L337.78,92.46 A25.2,25.2 0 0 0 339.33,90.32 Z" fill="#fff" stroke="#dadada" stroke-width="0.35"/>
<path d="M328.88,107.61 A32.800000000000004,32.800000000000004 0 0 1 325.58,108.56 L323.87,101.15 A25.2,25.2 0 0 0 326.40,100.43 Z" fill="#fff" stroke="#dadada" stroke-width="0.35"/>
<path d="M319.34,109.38 A32.800000000000004,32.800000000000004 0 0 1 315.34,109.28 L316.00,101.70 A25.2,25.2 0 0 0 319.08,101.78 Z" fill="#fff" stroke="#dadada" stroke-width="0.35"/>
<path d="M285.72,81.16 A32.800000000000004,32.800000000000004 0 0 1 285.40,76.60 L293.00,76.60 A25.2,25.2 0 0 0 293.25,80.11 Z" fill="#fff" stroke="#dadada" stroke-width="0.35"/>
<path d="M347.37,68.78 A30.2,30.2 0 0 1 347.94,71.36" fill="none" stroke="#b4b4b4" stroke-width="2.2" stroke-linecap="butt"/>
<path d="M348.11,72.40 A30.2,30.2 0 0 1 348.38,75.55" fill="none" stroke="#b4b4b4" stroke-width="2.2" stroke-linecap="butt"/>
<path d="M348.40,76.60 A30.2,30.2 0 0 1 348.29,79.23" fill="none" stroke="#b4b4b4" stroke-width="2.2" stroke-linecap="butt"/>
<path d="M348.17,80.28 A30.2,30.2 0 0 1 347.63,83.39" fill="none" stroke="#b4b4b4" stroke-width="2.2" stroke-linecap="butt"/>
<path d="M340.99,96.41 A30.2,30.2 0 0 1 338.80,98.69" fill="none" stroke="#b4b4b4" stroke-width="2.2" stroke-linecap="butt"/>
<path d="M338.01,99.39 A30.2,30.2 0 0 1 335.52,101.34" fill="none" stroke="#b4b4b4" stroke-width="2.2" stroke-linecap="butt"/>
<path d="M334.65,101.93 A30.2,30.2 0 0 1 331.91,103.51" fill="none" stroke="#b4b4b4" stroke-width="2.2" stroke-linecap="butt"/>
<path d="M314.00,106.51 A30.2,30.2 0 0 1 309.88,105.63" fill="none" stroke="#b4b4b4" stroke-width="2.2" stroke-linecap="butt"/>
<path d="M308.37,105.15 A30.2,30.2 0 0 1 305.44,103.97" fill="none" stroke="#b4b4b4" stroke-width="2.2" stroke-linecap="butt"/>
<path d="M301.31,101.64 A30.2,30.2 0 0 1 295.76,96.81" fill="none" stroke="#b4b4b4" stroke-width="2.2" stroke-linecap="butt"/>
<path d="M293.16,93.49 A30.2,30.2 0 0 1 289.82,86.93" fill="none" stroke="#b4b4b4" stroke-width="2.2" stroke-linecap="butt"/>
<path d="M294.20,62.18 A28.0,28.0 0 0 1 299.83,55.47" fill="none" stroke="#9e9e9e" stroke-width="4.2" stroke-linecap="butt"/>
<path d="M292.52,68.26 A27.0,27.0 0 0 1 294.59,63.51" fill="none" stroke="#bababa" stroke-width="2.5" stroke-linecap="butt"/>
<path d="M301.21,55.62 A27.0,27.0 0 0 1 338.26,58.53" fill="none" stroke="#bababa" stroke-width="2.5" stroke-linecap="butt"/>
<path d="M344.02,68.71 A27.0,27.0 0 0 1 344.28,83.59" fill="none" stroke="#bababa" stroke-width="2.5" stroke-linecap="butt"/>
<path d="M339.18,93.59 A27.0,27.0 0 0 1 326.99,102.13" fill="none" stroke="#bababa" stroke-width="2.5" stroke-linecap="butt"/>
<path d="M315.85,103.50 A27.0,27.0 0 0 1 291.46,80.36" fill="none" stroke="#bababa" stroke-width="2.5" stroke-linecap="butt"/>
<text x="314.57" y="48.22" font-size="3.8" fill="#444" color="#444" text-anchor="middle" transform="rotate(-7 314.57 48.22)">MYC</text>
<text x="324.4" y="48.65" font-size="3.8" fill="#444" color="#444" text-anchor="middle" transform="rotate(12 324.4 48.65)">PVT1</text>
<text x="296.75" y="59.7" font-size="3.3" fill="#f4f4f4" color="#f4f4f4" text-anchor="middle" transform="rotate(-50 296.75 59.7)">CASC8</text>
<path d="M321.63,51.43 Q319.91,75.35 343.23,80.93" fill="none" stroke="#d2d2d2" stroke-width="0.45" stroke-opacity="0.8"/>
<path d="M327.10,52.81 Q320.21,75.54 342.84,82.78" fill="none" stroke="#d2d2d2" stroke-width="0.45" stroke-opacity="0.8"/>
<path d="M320.67,51.32 Q319.87,75.03 343.58,75.71" fill="none" stroke="#d2d2d2" stroke-width="0.45" stroke-opacity="0.8"/>
<path d="M320.16,51.28 Q319.84,75.02 343.58,75.65" fill="none" stroke="#d2d2d2" stroke-width="0.45" stroke-opacity="0.8"/>
<path d="M327.72,53.05 Q320.29,75.06 343.52,74.56" fill="none" stroke="#d2d2d2" stroke-width="0.45" stroke-opacity="0.8"/>
<path d="M304.85,54.99 Q318.92,75.28 343.60,76.28" fill="none" stroke="#c2d4ea" stroke-width="0.45" stroke-opacity="0.8"/>
<path d="M302.69,56.48 Q318.79,75.49 343.55,78.21" fill="none" stroke="#c2d4ea" stroke-width="0.45" stroke-opacity="0.8"/>
<path d="M307.85,53.41 Q319.09,75.40 343.40,79.77" fill="none" stroke="#c2d4ea" stroke-width="0.45" stroke-opacity="0.8"/>
<path d="M318.34,51.20 Q319.55,75.79 340.64,88.50" fill="none" stroke="#f4ad8e" stroke-width="0.4" stroke-opacity="0.6"/>
<path d="M319.63,51.24 Q318.89,76.48 328.27,99.92" fill="none" stroke="#f4ad8e" stroke-width="0.4" stroke-opacity="0.6"/>
<path d="M325.97,52.42 Q319.37,76.50 329.97,99.11" fill="none" stroke="#f4ad8e" stroke-width="0.4" stroke-opacity="0.6"/>
<path d="M326.12,52.47 Q319.47,76.45 331.51,98.24" fill="none" stroke="#f4ad8e" stroke-width="0.4" stroke-opacity="0.6"/>
<path d="M327.25,52.87 Q319.47,76.52 330.28,98.94" fill="none" stroke="#f4ad8e" stroke-width="0.4" stroke-opacity="0.6"/>
<path d="M320.70,51.32 Q318.99,76.47 328.84,99.67" fill="none" stroke="#f4ad8e" stroke-width="0.4" stroke-opacity="0.6"/>
<path d="M322.92,51.64 Q319.27,76.41 331.25,98.39" fill="none" stroke="#f4ad8e" stroke-width="0.4" stroke-opacity="0.6"/>
<path d="M323.66,51.79 Q319.73,76.05 338.24,92.21" fill="none" stroke="#f4ad8e" stroke-width="0.4" stroke-opacity="0.6"/>
<path d="M321.74,51.45 Q319.61,76.03 338.23,92.22" fill="none" stroke="#f4ad8e" stroke-width="0.4" stroke-opacity="0.6"/>
<path d="M315.49,51.34 Q317.29,76.41 305.75,98.74" fill="none" stroke="#58cdd0" stroke-width="0.6" stroke-opacity="0.65"/>
<path d="M316.78,51.24 Q316.78,75.81 295.88,88.73" fill="none" stroke="#58cdd0" stroke-width="0.6" stroke-opacity="0.65"/>
<path d="M315.85,51.31 Q316.93,76.11 299.44,93.72" fill="none" stroke="#58cdd0" stroke-width="0.35" stroke-opacity="0.65"/>
<path d="M315.83,51.31 Q316.86,76.02 298.19,92.25" fill="none" stroke="#58cdd0" stroke-width="0.6" stroke-opacity="0.65"/>
<path d="M315.13,51.39 Q317.20,76.37 304.55,98.02" fill="none" stroke="#58cdd0" stroke-width="0.6" stroke-opacity="0.65"/>
<path d="M317.95,51.20 Q318.05,76.59 316.00,101.90" fill="none" stroke="#ec8e96" stroke-width="0.6" stroke-opacity="0.8"/>
<path d="M317.78,51.20 Q318.06,76.60 316.32,101.93" fill="none" stroke="#ec8e96" stroke-width="0.6" stroke-opacity="0.8"/>
<path d="M316.65,51.25 Q318.08,76.60 317.76,102.00" fill="none" stroke="#9a9a9a" stroke-width="0.5" stroke-opacity="0.7"/>
<text x="443.5" y="31" font-size="8.2" fill="#333" color="#333" text-anchor="middle" textLength="46" lengthAdjust="spacingAndGlyphs">EBV-positive BL</text>
<path d="M406.36,70.09 A37.4,37.4 0 0 1 475.12,55.48" fill="none" stroke="#cfcfcf" stroke-width="1.3" stroke-linecap="butt"/>
<path d="M406.51,69.13 A37.4,37.4 0 0 1 406.78,67.71" fill="none" stroke="#1a1a1a" stroke-width="1.6" stroke-linecap="butt"/>
<path d="M407.21,65.88 A37.4,37.4 0 0 1 407.55,64.64" fill="none" stroke="#1a1a1a" stroke-width="1.6" stroke-linecap="butt"/>
<path d="M410.35,57.80 A37.4,37.4 0 0 1 411.03,56.56" fill="none" stroke="#8a8a8a" stroke-width="1.5" stroke-linecap="butt"/>
<path d="M411.87,55.19 A37.4,37.4 0 0 1 412.60,54.09" fill="none" stroke="#1a1a1a" stroke-width="1.6" stroke-linecap="butt"/>
<path d="M417.14,48.67 A37.4,37.4 0 0 1 419.01,46.94" fill="none" stroke="#1a1a1a" stroke-width="1.6" stroke-linecap="butt"/>
<path d="M424.57,42.99 A37.4,37.4 0 0 1 426.95,41.71" fill="none" stroke="#1a1a1a" stroke-width="1.6" stroke-linecap="butt"/>
<path d="M429.10,40.74 A37.4,37.4 0 0 1 431.25,39.93" fill="none" stroke="#8a8a8a" stroke-width="1.5" stroke-linecap="butt"/>
<path d="M432.57,39.50 A37.4,37.4 0 0 1 434.40,39.00" fill="none" stroke="#1a1a1a" stroke-width="1.6" stroke-linecap="butt"/>
<path d="M437.45,38.38 A37.4,37.4 0 0 1 440.11,38.05" fill="none" stroke="#8a8a8a" stroke-width="1.5" stroke-linecap="butt"/>
<path d="M441.77,37.94 A37.4,37.4 0 0 1 444.53,37.92" fill="none" stroke="#8a8a8a" stroke-width="1.5" stroke-linecap="butt"/>
<path d="M447.51,38.13 A37.4,37.4 0 0 1 450.13,38.51" fill="none" stroke="#8a8a8a" stroke-width="1.5" stroke-linecap="butt"/>
<path d="M452.01,38.90 A37.4,37.4 0 0 1 454.09,39.46" fill="none" stroke="#1a1a1a" stroke-width="1.6" stroke-linecap="butt"/>
<path d="M457.85,40.81 A37.4,37.4 0 0 1 458.84,41.23" fill="none" stroke="#8a8a8a" stroke-width="1.5" stroke-linecap="butt"/>
<path d="M460.30,41.93 A37.4,37.4 0 0 1 462.08,42.90" fill="none" stroke="#1a1a1a" stroke-width="1.6" stroke-linecap="butt"/>
<path d="M463.58,43.81 A37.4,37.4 0 0 1 465.99,45.49" fill="none" stroke="#1a1a1a" stroke-width="1.6" stroke-linecap="butt"/>
<path d="M467.49,46.69 A37.4,37.4 0 0 1 468.52,47.60" fill="none" stroke="#8a8a8a" stroke-width="1.5" stroke-linecap="butt"/>
<path d="M474.00,53.79 A37.4,37.4 0 0 1 474.61,54.70" fill="none" stroke="#1a1a1a" stroke-width="1.6" stroke-linecap="butt"/>
<path d="M477.83,60.69 A37.4,37.4 0 0 1 478.32,88.70" fill="none" stroke="#cfcfcf" stroke-width="1.3" stroke-linecap="butt"/>
<path d="M478.20,61.59 A37.4,37.4 0 0 1 478.94,63.65" fill="none" stroke="#1a1a1a" stroke-width="1.6" stroke-linecap="butt"/>
<path d="M479.44,65.31 A37.4,37.4 0 0 1 479.77,66.59" fill="none" stroke="#1a1a1a" stroke-width="1.6" stroke-linecap="butt"/>
<path d="M479.55,84.90 A37.4,37.4 0 0 1 478.80,87.37" fill="none" stroke="#1a1a1a" stroke-width="1.6" stroke-linecap="butt"/>
<path d="M474.77,95.67 A37.4,37.4 0 0 1 451.81,111.74" fill="none" stroke="#cfcfcf" stroke-width="1.3" stroke-linecap="butt"/>
<path d="M474.22,96.48 A37.4,37.4 0 0 1 473.14,97.98" fill="none" stroke="#1a1a1a" stroke-width="1.6" stroke-linecap="butt"/>
<path d="M471.98,99.42 A37.4,37.4 0 0 1 470.05,101.54" fill="none" stroke="#1a1a1a" stroke-width="1.6" stroke-linecap="butt"/>
<path d="M469.34,102.24 A37.4,37.4 0 0 1 468.56,102.97" fill="none" stroke="#1a1a1a" stroke-width="1.6" stroke-linecap="butt"/>
<path d="M466.44,104.76 A37.4,37.4 0 0 1 465.09,105.77" fill="none" stroke="#1a1a1a" stroke-width="1.6" stroke-linecap="butt"/>
<path d="M464.10,106.45 A37.4,37.4 0 0 1 461.62,107.96" fill="none" stroke="#1a1a1a" stroke-width="1.6" stroke-linecap="butt"/>
<path d="M460.34,108.64 A37.4,37.4 0 0 1 459.36,109.12" fill="none" stroke="#1a1a1a" stroke-width="1.6" stroke-linecap="butt"/>
<path d="M458.11,109.68 A37.4,37.4 0 0 1 455.97,110.53" fill="none" stroke="#1a1a1a" stroke-width="1.6" stroke-linecap="butt"/>
<path d="M454.95,110.87 A37.4,37.4 0 0 1 453.09,111.42" fill="none" stroke="#1a1a1a" stroke-width="1.6" stroke-linecap="butt"/>
<path d="M444.71,112.68 A37.4,37.4 0 0 1 406.00,75.30" fill="none" stroke="#cfcfcf" stroke-width="1.3" stroke-linecap="butt"/>
<path d="M443.73,112.70 A37.4,37.4 0 0 1 442.51,112.69" fill="none" stroke="#8a8a8a" stroke-width="1.5" stroke-linecap="butt"/>
<path d="M435.96,111.95 A37.4,37.4 0 0 1 434.54,111.64" fill="none" stroke="#1a1a1a" stroke-width="1.6" stroke-linecap="butt"/>
<path d="M433.51,111.37 A37.4,37.4 0 0 1 431.78,110.85" fill="none" stroke="#1a1a1a" stroke-width="1.6" stroke-linecap="butt"/>
<path d="M428.96,109.80 A37.4,37.4 0 0 1 426.60,108.71" fill="none" stroke="#1a1a1a" stroke-width="1.6" stroke-linecap="butt"/>
<path d="M425.66,108.23 A37.4,37.4 0 0 1 424.38,107.50" fill="none" stroke="#1a1a1a" stroke-width="1.6" stroke-linecap="butt"/>
<path d="M418.31,103.04 A37.4,37.4 0 0 1 416.23,101.00" fill="none" stroke="#1a1a1a" stroke-width="1.6" stroke-linecap="butt"/>
<path d="M411.40,94.66 A37.4,37.4 0 0 1 410.44,92.97" fill="none" stroke="#1a1a1a" stroke-width="1.6" stroke-linecap="butt"/>
<path d="M407.65,86.30 A37.4,37.4 0 0 1 407.21,84.72" fill="none" stroke="#8a8a8a" stroke-width="1.5" stroke-linecap="butt"/>
<path d="M406.07,77.60 A37.4,37.4 0 0 1 406.01,75.95" fill="none" stroke="#8a8a8a" stroke-width="1.5" stroke-linecap="butt"/>
<path d="M421.95,44.66 A37.4,37.4 0 0 1 423.58,43.58" fill="none" stroke="#d04050" stroke-width="1.5" stroke-linecap="butt"/>
<path d="M464.31,106.31 A37.4,37.4 0 0 1 462.66,107.36" fill="none" stroke="#d04050" stroke-width="1.5" stroke-linecap="butt"/>
<line x1="437.10" y1="37.62" x2="436.57" y2="34.47" stroke="#222" stroke-width="0.7" stroke-linecap="butt"/>
<path d="M409.63,70.55 A34.1,34.1 0 0 1 472.32,57.23" fill="none" stroke="#ababab" stroke-width="2.5" stroke-linecap="butt"/>
<path d="M474.79,61.98 A34.1,34.1 0 0 1 475.24,87.52" fill="none" stroke="#c6bade" stroke-width="2.5" stroke-linecap="butt"/>
<path d="M472.00,93.87 A34.1,34.1 0 0 1 451.07,108.53" fill="none" stroke="#e2b682" stroke-width="2.5" stroke-linecap="butt"/>
<path d="M444.59,109.38 A34.1,34.1 0 0 1 409.30,75.30" fill="none" stroke="#4fa873" stroke-width="2.5" stroke-linecap="butt"/>
<path d="M443.96,107.30 A32.0,32.0 0 0 1 411.40,75.86" fill="none" stroke="#bfe3cb" stroke-width="1.7" stroke-linecap="butt"/>
<path d="M469.93,93.19 A32.0,32.0 0 0 1 454.34,105.37" fill="none" stroke="#f1d6b6" stroke-width="1.5" stroke-linecap="butt"/>
<text x="484.79" y="75.82" font-size="4.6" fill="#444" color="#444" text-anchor="middle">2</text>
<text x="469.01" y="109.68" font-size="4.6" fill="#444" color="#444" text-anchor="middle">22</text>
<text x="414.62" y="107.76" font-size="4.6" fill="#444" color="#444" text-anchor="middle">14</text>
<path d="M410.92,70.74 A32.800000000000004,32.800000000000004 0 0 1 412.21,65.16 L419.43,67.51 A25.2,25.2 0 0 0 418.45,71.79 Z" fill="#fff" stroke="#dadada" stroke-width="0.35"/>
<path d="M467.78,53.35 A32.800000000000004,32.800000000000004 0 0 1 471.22,57.92 L464.77,61.95 A25.2,25.2 0 0 0 462.13,58.44 Z" fill="#fff" stroke="#dadada" stroke-width="0.35"/>
<path d="M473.59,62.48 A32.800000000000004,32.800000000000004 0 0 1 474.77,65.71 L467.50,67.93 A25.2,25.2 0 0 0 466.60,65.45 Z" fill="#fff" stroke="#dadada" stroke-width="0.35"/>
<path d="M475.08,83.79 A32.800000000000004,32.800000000000004 0 0 1 474.02,87.05 L466.93,84.33 A25.2,25.2 0 0 0 467.74,81.82 Z" fill="#fff" stroke="#dadada" stroke-width="0.35"/>
<path d="M470.91,93.16 A32.800000000000004,32.800000000000004 0 0 1 468.89,95.94 L462.98,91.16 A25.2,25.2 0 0 0 464.53,89.02 Z" fill="#fff" stroke="#dadada" stroke-width="0.35"/>
<path d="M454.08,106.31 A32.800000000000004,32.800000000000004 0 0 1 450.78,107.26 L449.07,99.85 A25.2,25.2 0 0 0 451.60,99.13 Z" fill="#fff" stroke="#dadada" stroke-width="0.35"/>
<path d="M444.54,108.08 A32.800000000000004,32.800000000000004 0 0 1 440.54,107.98 L441.20,100.40 A25.2,25.2 0 0 0 444.28,100.48 Z" fill="#fff" stroke="#dadada" stroke-width="0.35"/>
<path d="M410.92,79.86 A32.800000000000004,32.800000000000004 0 0 1 410.60,75.30 L418.20,75.30 A25.2,25.2 0 0 0 418.45,78.81 Z" fill="#fff" stroke="#dadada" stroke-width="0.35"/>
<path d="M472.57,67.48 A30.2,30.2 0 0 1 473.14,70.06" fill="none" stroke="#b4b4b4" stroke-width="2.2" stroke-linecap="butt"/>
<path d="M473.31,71.10 A30.2,30.2 0 0 1 473.58,74.25" fill="none" stroke="#b4b4b4" stroke-width="2.2" stroke-linecap="butt"/>
<path d="M473.60,75.30 A30.2,30.2 0 0 1 473.49,77.93" fill="none" stroke="#b4b4b4" stroke-width="2.2" stroke-linecap="butt"/>
<path d="M473.37,78.98 A30.2,30.2 0 0 1 472.83,82.09" fill="none" stroke="#b4b4b4" stroke-width="2.2" stroke-linecap="butt"/>
<path d="M466.19,95.11 A30.2,30.2 0 0 1 464.00,97.39" fill="none" stroke="#b4b4b4" stroke-width="2.2" stroke-linecap="butt"/>
<path d="M463.21,98.09 A30.2,30.2 0 0 1 460.72,100.04" fill="none" stroke="#b4b4b4" stroke-width="2.2" stroke-linecap="butt"/>
<path d="M459.85,100.63 A30.2,30.2 0 0 1 457.11,102.21" fill="none" stroke="#b4b4b4" stroke-width="2.2" stroke-linecap="butt"/>
<path d="M439.20,105.21 A30.2,30.2 0 0 1 435.08,104.33" fill="none" stroke="#b4b4b4" stroke-width="2.2" stroke-linecap="butt"/>
<path d="M433.57,103.85 A30.2,30.2 0 0 1 430.64,102.67" fill="none" stroke="#b4b4b4" stroke-width="2.2" stroke-linecap="butt"/>
<path d="M426.51,100.34 A30.2,30.2 0 0 1 420.96,95.51" fill="none" stroke="#b4b4b4" stroke-width="2.2" stroke-linecap="butt"/>
<path d="M418.36,92.19 A30.2,30.2 0 0 1 415.02,85.63" fill="none" stroke="#b4b4b4" stroke-width="2.2" stroke-linecap="butt"/>
<path d="M419.40,60.88 A28.0,28.0 0 0 1 425.03,54.17" fill="none" stroke="#9e9e9e" stroke-width="4.2" stroke-linecap="butt"/>
<path d="M417.72,66.96 A27.0,27.0 0 0 1 419.79,62.21" fill="none" stroke="#bababa" stroke-width="2.5" stroke-linecap="butt"/>
<path d="M426.41,54.32 A27.0,27.0 0 0 1 463.46,57.23" fill="none" stroke="#bababa" stroke-width="2.5" stroke-linecap="butt"/>
<path d="M469.22,67.41 A27.0,27.0 0 0 1 469.48,82.29" fill="none" stroke="#bababa" stroke-width="2.5" stroke-linecap="butt"/>
<path d="M464.38,92.29 A27.0,27.0 0 0 1 452.19,100.83" fill="none" stroke="#bababa" stroke-width="2.5" stroke-linecap="butt"/>
<path d="M441.05,102.20 A27.0,27.0 0 0 1 416.66,79.06" fill="none" stroke="#bababa" stroke-width="2.5" stroke-linecap="butt"/>
<text x="439.77" y="46.92" font-size="3.8" fill="#444" color="#444" text-anchor="middle" transform="rotate(-7 439.77 46.92)">MYC</text>
<text x="449.6" y="47.35" font-size="3.8" fill="#444" color="#444" text-anchor="middle" transform="rotate(12 449.6 47.35)">PVT1</text>
<text x="421.95" y="58.4" font-size="3.3" fill="#f4f4f4" color="#f4f4f4" text-anchor="middle" transform="rotate(-50 421.95 58.4)">CASC8</text>
<path d="M444.82,49.94 Q444.98,74.05 468.39,79.83" fill="none" stroke="#d2d2d2" stroke-width="0.45" stroke-opacity="0.8"/>
<path d="M451.90,51.37 Q445.37,74.30 467.76,82.49" fill="none" stroke="#d2d2d2" stroke-width="0.45" stroke-opacity="0.8"/>
<path d="M446.99,50.16 Q445.14,73.76 468.79,74.70" fill="none" stroke="#d2d2d2" stroke-width="0.45" stroke-opacity="0.8"/>
<path d="M452.92,51.75 Q445.48,74.13 468.48,79.33" fill="none" stroke="#d2d2d2" stroke-width="0.45" stroke-opacity="0.8"/>
<path d="M447.41,50.22 Q445.14,74.05 468.43,79.62" fill="none" stroke="#d2d2d2" stroke-width="0.45" stroke-opacity="0.8"/>
<path d="M448.64,50.45 Q445.20,74.13 468.22,80.67" fill="none" stroke="#d2d2d2" stroke-width="0.45" stroke-opacity="0.8"/>
<path d="M444.97,49.95 Q445.02,73.72 468.78,74.33" fill="none" stroke="#d2d2d2" stroke-width="0.45" stroke-opacity="0.8"/>
<path d="M454.95,52.68 Q445.62,73.98 468.79,75.88" fill="none" stroke="#d2d2d2" stroke-width="0.45" stroke-opacity="0.8"/>
<path d="M446.85,50.14 Q445.09,74.13 468.16,80.98" fill="none" stroke="#d2d2d2" stroke-width="0.45" stroke-opacity="0.8"/>
<path d="M431.01,53.13 Q444.18,73.92 468.78,74.41" fill="none" stroke="#c2d4ea" stroke-width="0.45" stroke-opacity="0.8"/>
<path d="M430.24,53.58 Q444.12,74.22 468.54,78.96" fill="none" stroke="#c2d4ea" stroke-width="0.45" stroke-opacity="0.8"/>
<path d="M445.01,49.95 Q444.19,75.13 455.01,97.89" fill="none" stroke="#f4ad8e" stroke-width="0.4" stroke-opacity="0.6"/>
<path d="M444.60,49.93 Q444.41,74.98 459.11,95.26" fill="none" stroke="#f4ad8e" stroke-width="0.4" stroke-opacity="0.6"/>
<path d="M444.21,49.91 Q444.49,74.89 460.67,93.92" fill="none" stroke="#f4ad8e" stroke-width="0.4" stroke-opacity="0.6"/>
<path d="M452.72,51.67 Q444.85,75.12 458.28,95.88" fill="none" stroke="#f4ad8e" stroke-width="0.4" stroke-opacity="0.6"/>
<path d="M452.83,51.71 Q444.83,75.14 457.84,96.20" fill="none" stroke="#f4ad8e" stroke-width="0.4" stroke-opacity="0.6"/>
<path d="M441.47,49.97 Q441.79,74.09 418.53,80.47" fill="none" stroke="#58cdd0" stroke-width="0.6" stroke-opacity="0.65"/>
<path d="M442.21,49.93 Q441.97,74.48 420.83,86.96" fill="none" stroke="#58cdd0" stroke-width="0.6" stroke-opacity="0.65"/>
<path d="M441.54,49.97 Q442.28,74.92 426.54,94.29" fill="none" stroke="#58cdd0" stroke-width="0.35" stroke-opacity="0.65"/>
<path d="M441.84,49.95 Q442.02,74.59 421.91,88.84" fill="none" stroke="#58cdd0" stroke-width="0.6" stroke-opacity="0.65"/>
<path d="M440.38,50.08 Q441.96,74.64 422.35,89.51" fill="none" stroke="#58cdd0" stroke-width="0.35" stroke-opacity="0.65"/>
<path d="M441.15,50.00 Q442.15,74.82 424.85,92.65" fill="none" stroke="#58cdd0" stroke-width="0.45" stroke-opacity="0.65"/>
<path d="M440.13,50.11 Q441.73,74.17 418.82,81.72" fill="none" stroke="#58cdd0" stroke-width="0.35" stroke-opacity="0.65"/>
<path d="M440.60,50.05 Q442.29,74.98 427.67,95.24" fill="none" stroke="#58cdd0" stroke-width="0.35" stroke-opacity="0.65"/>
<path d="M441.82,49.95 Q442.37,74.98 427.75,95.31" fill="none" stroke="#58cdd0" stroke-width="0.6" stroke-opacity="0.65"/>
<path d="M441.41,49.98 Q442.04,74.66 422.71,90.04" fill="none" stroke="#58cdd0" stroke-width="0.6" stroke-opacity="0.65"/>
<path d="M440.31,50.09 Q442.01,74.72 423.25,90.76" fill="none" stroke="#58cdd0" stroke-width="0.45" stroke-opacity="0.65"/>
<path d="M441.15,50.00 Q442.01,74.65 422.55,89.81" fill="none" stroke="#58cdd0" stroke-width="0.6" stroke-opacity="0.65"/>
<path d="M442.05,49.94 Q442.23,74.84 425.26,93.08" fill="none" stroke="#58cdd0" stroke-width="0.45" stroke-opacity="0.65"/>
<path d="M440.49,50.07 Q441.74,74.11 418.57,80.64" fill="none" stroke="#58cdd0" stroke-width="0.45" stroke-opacity="0.65"/>
<path d="M440.01,50.13 Q442.15,74.90 426.02,93.83" fill="none" stroke="#2a9f9c" stroke-width="0.85" stroke-opacity="0.8"/>
<path d="M441.41,49.98 Q441.94,74.51 421.06,87.39" fill="none" stroke="#2a9f9c" stroke-width="0.85" stroke-opacity="0.8"/>
<path d="M439.91,50.14 Q441.78,74.38 419.97,85.10" fill="none" stroke="#2a9f9c" stroke-width="0.85" stroke-opacity="0.8"/>
<path d="M441.95,49.94 Q442.06,74.65 422.54,89.80" fill="none" stroke="#2a9f9c" stroke-width="0.85" stroke-opacity="0.8"/>
<path d="M443.13,49.90 Q443.21,75.29 440.50,100.53" fill="none" stroke="#ec8e96" stroke-width="0.6" stroke-opacity="0.8"/>
<path d="M441.85,49.95 Q443.28,75.30 442.96,100.70" fill="none" stroke="#9a9a9a" stroke-width="0.5" stroke-opacity="0.7"/>
<text x="4" y="9.8" font-size="11" fill="#111" color="#111" font-weight="bold">A</text>
<text x="259.6" y="10.6" font-size="11" fill="#111" color="#111" font-weight="bold">B</text>
<text x="3.6" y="276.2" font-size="11" fill="#111" color="#111" font-weight="bold">C</text>
<text x="162.6" y="277" font-size="11" fill="#111" color="#111" font-weight="bold">D</text>
<text x="320.6" y="277.2" font-size="11" fill="#111" color="#111" font-weight="bold">E</text>
<rect x="1.40" y="138.30" width="120.40" height="11.20" fill="#fff" stroke="#3a3a3a" stroke-width="0.9"/>
<text x="61.6" y="146.3" font-size="7" fill="#333" color="#333" text-anchor="middle" textLength="15.8" lengthAdjust="spacingAndGlyphs">Adult</text>
<text x="10.899999999999999" y="155.4" font-size="4.7" fill="#3a3a3a" color="#3a3a3a" textLength="14" lengthAdjust="spacingAndGlyphs">CASC8</text>
<line x1="10.90" y1="156.70" x2="24.90" y2="156.70" stroke="#888" stroke-width="0.5" stroke-linecap="butt"/>
<text x="37.9" y="155.4" font-size="4.7" fill="#3a3a3a" color="#3a3a3a" textLength="7.4" lengthAdjust="spacingAndGlyphs">MYC</text>
<line x1="45.30" y1="156.70" x2="47.60" y2="156.70" stroke="#888" stroke-width="0.5" stroke-linecap="butt"/>
<text x="52.0" y="155.4" font-size="4.7" fill="#3a3a3a" color="#3a3a3a" textLength="10" lengthAdjust="spacingAndGlyphs">PVT1</text>
<line x1="47.60" y1="156.70" x2="69.10" y2="156.70" stroke="#888" stroke-width="0.5" stroke-linecap="butt"/>
<line x1="27.60" y1="159.80" x2="52.60" y2="203.60" stroke="#c9d6a0" stroke-width="0.8" stroke-opacity="0.9" stroke-linecap="butt"/>
<line x1="35.60" y1="159.80" x2="40.60" y2="203.60" stroke="#a9cf86" stroke-width="1.2" stroke-opacity="0.6" stroke-linecap="butt"/>
<line x1="42.10" y1="159.80" x2="24.60" y2="203.60" stroke="#c21f2e" stroke-width="1.1" stroke-opacity="0.9" stroke-linecap="butt"/>
<line x1="42.60" y1="159.80" x2="32.10" y2="203.60" stroke="#c21f2e" stroke-width="1.2" stroke-opacity="0.9" stroke-linecap="butt"/>
<line x1="43.10" y1="159.80" x2="34.10" y2="203.60" stroke="#a61c26" stroke-width="1.2" stroke-opacity="0.9" stroke-linecap="butt"/>
<line x1="43.60" y1="159.80" x2="36.60" y2="203.60" stroke="#c21f2e" stroke-width="1.2" stroke-opacity="0.9" stroke-linecap="butt"/>
<line x1="43.60" y1="159.80" x2="43.60" y2="203.60" stroke="#c26a2a" stroke-width="1.3" stroke-opacity="0.9" stroke-linecap="butt"/>
<line x1="44.60" y1="159.80" x2="54.60" y2="203.60" stroke="#5aa83c" stroke-width="1.0" stroke-opacity="0.8" stroke-linecap="butt"/>
<line x1="45.10" y1="159.80" x2="66.60" y2="203.60" stroke="#5aa83c" stroke-width="1.0" stroke-opacity="0.8" stroke-linecap="butt"/>
<line x1="45.60" y1="159.80" x2="77.10" y2="203.60" stroke="#5aa83c" stroke-width="1.0" stroke-opacity="0.8" stroke-linecap="butt"/>
<line x1="45.60" y1="159.80" x2="94.60" y2="203.60" stroke="#a9cf86" stroke-width="1.3" stroke-opacity="0.6" stroke-linecap="butt"/>
<line x1="46.10" y1="159.80" x2="58.60" y2="203.60" stroke="#a9cf86" stroke-width="1.2" stroke-opacity="0.6" stroke-linecap="butt"/>
<line x1="68.60" y1="159.80" x2="44.60" y2="203.60" stroke="#e0746a" stroke-width="0.6" stroke-opacity="0.9" stroke-linecap="butt"/>
<line x1="39.60" y1="159.80" x2="37.60" y2="203.60" stroke="#c21f2e" stroke-width="0.9" stroke-opacity="0.9" stroke-linecap="butt"/>
<text x="25.0" y="208.6" font-size="4.3" fill="#3a3a3a" color="#3a3a3a" textLength="10.8" lengthAdjust="spacingAndGlyphs">3'RR1</text>
<line x1="30.10" y1="209.30" x2="30.10" y2="210.80" stroke="#888" stroke-width="0.5" stroke-linecap="butt"/>
<text x="38.7" y="208.6" font-size="4.6" fill="#3a3a3a" color="#3a3a3a">E</text>
<text x="41.9" y="208.8" font-size="3.4" fill="#3a3a3a" color="#3a3a3a">mu</text>
<text x="73.0" y="208.6" font-size="4.4" fill="#3a3a3a" color="#3a3a3a" textLength="11.5" lengthAdjust="spacingAndGlyphs">IGH V</text>
<line x1="49.20" y1="210.50" x2="115.90" y2="210.50" stroke="#888" stroke-width="0.5" stroke-linecap="butt"/>
<line x1="2.10" y1="213.70" x2="121.10" y2="213.70" stroke="#2a2a2a" stroke-width="1.2" stroke-linecap="butt"/>
<line x1="7.95" y1="213.70" x2="7.95" y2="216.30" stroke="#2a2a2a" stroke-width="0.9" stroke-linecap="butt"/>
<text x="7.95" y="226" font-size="6.4" fill="#333" color="#333" text-anchor="middle" textLength="14" lengthAdjust="spacingAndGlyphs">–500</text>
<line x1="43.60" y1="213.70" x2="43.60" y2="216.30" stroke="#2a2a2a" stroke-width="0.9" stroke-linecap="butt"/>
<text x="43.6" y="226" font-size="6.4" fill="#333" color="#333" text-anchor="middle" textLength="3.6" lengthAdjust="spacingAndGlyphs">0</text>
<line x1="79.25" y1="213.70" x2="79.25" y2="216.30" stroke="#2a2a2a" stroke-width="0.9" stroke-linecap="butt"/>
<text x="79.25" y="226" font-size="6.4" fill="#333" color="#333" text-anchor="middle" textLength="10.5" lengthAdjust="spacingAndGlyphs">500</text>
<line x1="114.90" y1="213.70" x2="114.90" y2="216.30" stroke="#2a2a2a" stroke-width="0.9" stroke-linecap="butt"/>
<text x="114.9" y="226" font-size="6.4" fill="#333" color="#333" text-anchor="middle" textLength="13.5" lengthAdjust="spacingAndGlyphs">1000</text>
<rect x="127.00" y="138.30" width="120.40" height="11.20" fill="#fff" stroke="#3a3a3a" stroke-width="0.9"/>
<text x="187.2" y="146.3" font-size="7" fill="#333" color="#333" text-anchor="middle" textLength="24.8" lengthAdjust="spacingAndGlyphs">Pediatric</text>
<text x="136.5" y="155.4" font-size="4.7" fill="#3a3a3a" color="#3a3a3a" textLength="14" lengthAdjust="spacingAndGlyphs">CASC8</text>
<line x1="136.50" y1="156.70" x2="150.50" y2="156.70" stroke="#888" stroke-width="0.5" stroke-linecap="butt"/>
<text x="163.5" y="155.4" font-size="4.7" fill="#3a3a3a" color="#3a3a3a" textLength="7.4" lengthAdjust="spacingAndGlyphs">MYC</text>
<line x1="170.90" y1="156.70" x2="173.20" y2="156.70" stroke="#888" stroke-width="0.5" stroke-linecap="butt"/>
<text x="177.6" y="155.4" font-size="4.7" fill="#3a3a3a" color="#3a3a3a" textLength="10" lengthAdjust="spacingAndGlyphs">PVT1</text>
<line x1="173.20" y1="156.70" x2="194.70" y2="156.70" stroke="#888" stroke-width="0.5" stroke-linecap="butt"/>
<line x1="135.20" y1="159.80" x2="190.20" y2="203.60" stroke="#a9cf86" stroke-width="1.2" stroke-opacity="0.6" stroke-linecap="butt"/>
<line x1="145.20" y1="159.80" x2="167.20" y2="203.60" stroke="#a9cf86" stroke-width="1.2" stroke-opacity="0.6" stroke-linecap="butt"/>
<line x1="155.70" y1="159.80" x2="168.70" y2="203.60" stroke="#5aa83c" stroke-width="1.4" stroke-opacity="0.85" stroke-linecap="butt"/>
<line x1="167.20" y1="159.80" x2="150.20" y2="203.60" stroke="#c21f2e" stroke-width="0.8" stroke-opacity="0.9" stroke-linecap="butt"/>
<line x1="167.20" y1="159.80" x2="158.20" y2="203.60" stroke="#c21f2e" stroke-width="1.1" stroke-opacity="0.9" stroke-linecap="butt"/>
<line x1="167.70" y1="159.80" x2="161.20" y2="203.60" stroke="#a61c26" stroke-width="1.1" stroke-opacity="0.9" stroke-linecap="butt"/>
<line x1="168.20" y1="159.80" x2="163.20" y2="203.60" stroke="#c21f2e" stroke-width="1.2" stroke-opacity="0.9" stroke-linecap="butt"/>
<line x1="168.70" y1="159.80" x2="165.20" y2="203.60" stroke="#c21f2e" stroke-width="1.3" stroke-opacity="0.9" stroke-linecap="butt"/>
<line x1="169.20" y1="159.80" x2="169.20" y2="203.60" stroke="#c26a2a" stroke-width="1.4" stroke-opacity="0.9" stroke-linecap="butt"/>
<line x1="170.20" y1="159.80" x2="170.20" y2="203.60" stroke="#c26a2a" stroke-width="1.0" stroke-opacity="0.9" stroke-linecap="butt"/>
<line x1="181.20" y1="159.80" x2="172.20" y2="203.60" stroke="#e0746a" stroke-width="0.6" stroke-opacity="0.9" stroke-linecap="butt"/>
<line x1="170.20" y1="159.80" x2="192.20" y2="203.60" stroke="#5aa83c" stroke-width="1.1" stroke-opacity="0.8" stroke-linecap="butt"/>
<line x1="170.70" y1="159.80" x2="207.20" y2="203.60" stroke="#5aa83c" stroke-width="1.1" stroke-opacity="0.8" stroke-linecap="butt"/>
<line x1="171.20" y1="159.80" x2="215.20" y2="203.60" stroke="#a9cf86" stroke-width="1.3" stroke-opacity="0.6" stroke-linecap="butt"/>
<line x1="171.70" y1="159.80" x2="234.20" y2="203.60" stroke="#a9cf86" stroke-width="1.3" stroke-opacity="0.6" stroke-linecap="butt"/>
<line x1="152.20" y1="159.80" x2="194.20" y2="203.60" stroke="#c9d6a0" stroke-width="0.7" stroke-opacity="0.8" stroke-linecap="butt"/>
<line x1="163.20" y1="159.80" x2="179.20" y2="203.60" stroke="#a9cf86" stroke-width="1.2" stroke-opacity="0.6" stroke-linecap="butt"/>
<line x1="159.20" y1="159.80" x2="167.20" y2="203.60" stroke="#5aa83c" stroke-width="1.1" stroke-opacity="0.8" stroke-linecap="butt"/>
<text x="150.6" y="208.6" font-size="4.3" fill="#3a3a3a" color="#3a3a3a" textLength="10.8" lengthAdjust="spacingAndGlyphs">3'RR1</text>
<line x1="155.70" y1="209.30" x2="155.70" y2="210.80" stroke="#888" stroke-width="0.5" stroke-linecap="butt"/>
<text x="164.29999999999998" y="208.6" font-size="4.6" fill="#3a3a3a" color="#3a3a3a">E</text>
<text x="167.5" y="208.8" font-size="3.4" fill="#3a3a3a" color="#3a3a3a">mu</text>
<text x="198.6" y="208.6" font-size="4.4" fill="#3a3a3a" color="#3a3a3a" textLength="11.5" lengthAdjust="spacingAndGlyphs">IGH V</text>
<line x1="174.80" y1="210.50" x2="241.50" y2="210.50" stroke="#888" stroke-width="0.5" stroke-linecap="butt"/>
<line x1="127.70" y1="213.70" x2="246.70" y2="213.70" stroke="#2a2a2a" stroke-width="1.2" stroke-linecap="butt"/>
<line x1="133.55" y1="213.70" x2="133.55" y2="216.30" stroke="#2a2a2a" stroke-width="0.9" stroke-linecap="butt"/>
<text x="133.55" y="226" font-size="6.4" fill="#333" color="#333" text-anchor="middle" textLength="14" lengthAdjust="spacingAndGlyphs">–500</text>
<line x1="169.20" y1="213.70" x2="169.20" y2="216.30" stroke="#2a2a2a" stroke-width="0.9" stroke-linecap="butt"/>
<text x="169.2" y="226" font-size="6.4" fill="#333" color="#333" text-anchor="middle" textLength="3.6" lengthAdjust="spacingAndGlyphs">0</text>
<line x1="204.85" y1="213.70" x2="204.85" y2="216.30" stroke="#2a2a2a" stroke-width="0.9" stroke-linecap="butt"/>
<text x="204.85" y="226" font-size="6.4" fill="#333" color="#333" text-anchor="middle" textLength="10.5" lengthAdjust="spacingAndGlyphs">500</text>
<line x1="240.50" y1="213.70" x2="240.50" y2="216.30" stroke="#2a2a2a" stroke-width="0.9" stroke-linecap="butt"/>
<text x="240.5" y="226" font-size="6.4" fill="#333" color="#333" text-anchor="middle" textLength="13.5" lengthAdjust="spacingAndGlyphs">1000</text>
<rect x="260.20" y="138.30" width="120.40" height="11.20" fill="#fff" stroke="#3a3a3a" stroke-width="0.9"/>
<text x="320.4" y="146.3" font-size="7" fill="#333" color="#333" text-anchor="middle" textLength="38.5" lengthAdjust="spacingAndGlyphs">EBV-negative</text>
<text x="269.7" y="155.4" font-size="4.7" fill="#3a3a3a" color="#3a3a3a" textLength="14" lengthAdjust="spacingAndGlyphs">CASC8</text>
<line x1="269.70" y1="156.70" x2="283.70" y2="156.70" stroke="#888" stroke-width="0.5" stroke-linecap="butt"/>
<text x="296.7" y="155.4" font-size="4.7" fill="#3a3a3a" color="#3a3a3a" textLength="7.4" lengthAdjust="spacingAndGlyphs">MYC</text>
<line x1="304.10" y1="156.70" x2="306.40" y2="156.70" stroke="#888" stroke-width="0.5" stroke-linecap="butt"/>
<text x="310.79999999999995" y="155.4" font-size="4.7" fill="#3a3a3a" color="#3a3a3a" textLength="10" lengthAdjust="spacingAndGlyphs">PVT1</text>
<line x1="306.40" y1="156.70" x2="327.90" y2="156.70" stroke="#888" stroke-width="0.5" stroke-linecap="butt"/>
<line x1="276.40" y1="159.80" x2="298.40" y2="203.60" stroke="#c9d6a0" stroke-width="0.7" stroke-opacity="0.9" stroke-linecap="butt"/>
<line x1="292.40" y1="159.80" x2="298.40" y2="203.60" stroke="#e0746a" stroke-width="0.7" stroke-opacity="0.8" stroke-linecap="butt"/>
<line x1="300.40" y1="159.80" x2="283.40" y2="203.60" stroke="#c21f2e" stroke-width="1.1" stroke-opacity="0.9" stroke-linecap="butt"/>
<line x1="300.90" y1="159.80" x2="287.40" y2="203.60" stroke="#c21f2e" stroke-width="1.1" stroke-opacity="0.9" stroke-linecap="butt"/>
<line x1="301.40" y1="159.80" x2="291.40" y2="203.60" stroke="#a61c26" stroke-width="1.2" stroke-opacity="0.9" stroke-linecap="butt"/>
<line x1="301.90" y1="159.80" x2="293.40" y2="203.60" stroke="#c21f2e" stroke-width="1.3" stroke-opacity="0.9" stroke-linecap="butt"/>
<line x1="302.40" y1="159.80" x2="295.40" y2="203.60" stroke="#c21f2e" stroke-width="1.2" stroke-opacity="0.9" stroke-linecap="butt"/>
<line x1="302.40" y1="159.80" x2="300.40" y2="203.60" stroke="#c26a2a" stroke-width="1.1" stroke-opacity="0.9" stroke-linecap="butt"/>
<line x1="302.90" y1="159.80" x2="302.40" y2="203.60" stroke="#c26a2a" stroke-width="1.0" stroke-opacity="0.9" stroke-linecap="butt"/>
<line x1="314.40" y1="159.80" x2="301.40" y2="203.60" stroke="#e0746a" stroke-width="0.6" stroke-opacity="0.8" stroke-linecap="butt"/>
<line x1="328.40" y1="159.80" x2="303.40" y2="203.60" stroke="#e0746a" stroke-width="0.6" stroke-opacity="0.8" stroke-linecap="butt"/>
<line x1="303.40" y1="159.80" x2="315.40" y2="203.60" stroke="#a9cf86" stroke-width="1.2" stroke-opacity="0.6" stroke-linecap="butt"/>
<line x1="303.40" y1="159.80" x2="325.40" y2="203.60" stroke="#5aa83c" stroke-width="0.9" stroke-opacity="0.8" stroke-linecap="butt"/>
<line x1="303.90" y1="159.80" x2="335.40" y2="203.60" stroke="#5aa83c" stroke-width="0.9" stroke-opacity="0.8" stroke-linecap="butt"/>
<line x1="304.40" y1="159.80" x2="341.40" y2="203.60" stroke="#5aa83c" stroke-width="0.9" stroke-opacity="0.8" stroke-linecap="butt"/>
<line x1="304.40" y1="159.80" x2="350.40" y2="203.60" stroke="#a9cf86" stroke-width="1.2" stroke-opacity="0.6" stroke-linecap="butt"/>
<line x1="304.90" y1="159.80" x2="354.40" y2="203.60" stroke="#5aa83c" stroke-width="0.9" stroke-opacity="0.8" stroke-linecap="butt"/>
<line x1="305.40" y1="159.80" x2="357.40" y2="203.60" stroke="#a9cf86" stroke-width="1.2" stroke-opacity="0.6" stroke-linecap="butt"/>
<line x1="307.40" y1="159.80" x2="310.40" y2="203.60" stroke="#a9cf86" stroke-width="1.1" stroke-opacity="0.6" stroke-linecap="butt"/>
<text x="283.79999999999995" y="208.6" font-size="4.3" fill="#3a3a3a" color="#3a3a3a" textLength="10.8" lengthAdjust="spacingAndGlyphs">3'RR1</text>
<line x1="288.90" y1="209.30" x2="288.90" y2="210.80" stroke="#888" stroke-width="0.5" stroke-linecap="butt"/>
<text x="297.5" y="208.6" font-size="4.6" fill="#3a3a3a" color="#3a3a3a">E</text>
<text x="300.7" y="208.8" font-size="3.4" fill="#3a3a3a" color="#3a3a3a">mu</text>
<text x="331.79999999999995" y="208.6" font-size="4.4" fill="#3a3a3a" color="#3a3a3a" textLength="11.5" lengthAdjust="spacingAndGlyphs">IGH V</text>
<line x1="308.00" y1="210.50" x2="374.70" y2="210.50" stroke="#888" stroke-width="0.5" stroke-linecap="butt"/>
<line x1="260.90" y1="213.70" x2="379.90" y2="213.70" stroke="#2a2a2a" stroke-width="1.2" stroke-linecap="butt"/>
<line x1="266.75" y1="213.70" x2="266.75" y2="216.30" stroke="#2a2a2a" stroke-width="0.9" stroke-linecap="butt"/>
<text x="266.75" y="226" font-size="6.4" fill="#333" color="#333" text-anchor="middle" textLength="14" lengthAdjust="spacingAndGlyphs">–500</text>
<line x1="302.40" y1="213.70" x2="302.40" y2="216.30" stroke="#2a2a2a" stroke-width="0.9" stroke-linecap="butt"/>
<text x="302.4" y="226" font-size="6.4" fill="#333" color="#333" text-anchor="middle" textLength="3.6" lengthAdjust="spacingAndGlyphs">0</text>
<line x1="338.05" y1="213.70" x2="338.05" y2="216.30" stroke="#2a2a2a" stroke-width="0.9" stroke-linecap="butt"/>
<text x="338.05" y="226" font-size="6.4" fill="#333" color="#333" text-anchor="middle" textLength="10.5" lengthAdjust="spacingAndGlyphs">500</text>
<line x1="373.70" y1="213.70" x2="373.70" y2="216.30" stroke="#2a2a2a" stroke-width="0.9" stroke-linecap="butt"/>
<text x="373.7" y="226" font-size="6.4" fill="#333" color="#333" text-anchor="middle" textLength="13.5" lengthAdjust="spacingAndGlyphs">1000</text>
<rect x="385.80" y="138.30" width="120.40" height="11.20" fill="#fff" stroke="#3a3a3a" stroke-width="0.9"/>
<text x="446.0" y="146.3" font-size="7" fill="#333" color="#333" text-anchor="middle" textLength="36.1" lengthAdjust="spacingAndGlyphs">EBV-positive</text>
<text x="395.3" y="155.4" font-size="4.7" fill="#3a3a3a" color="#3a3a3a" textLength="14" lengthAdjust="spacingAndGlyphs">CASC8</text>
<line x1="395.30" y1="156.70" x2="409.30" y2="156.70" stroke="#888" stroke-width="0.5" stroke-linecap="butt"/>
<text x="422.3" y="155.4" font-size="4.7" fill="#3a3a3a" color="#3a3a3a" textLength="7.4" lengthAdjust="spacingAndGlyphs">MYC</text>
<line x1="429.70" y1="156.70" x2="432.00" y2="156.70" stroke="#888" stroke-width="0.5" stroke-linecap="butt"/>
<text x="436.4" y="155.4" font-size="4.7" fill="#3a3a3a" color="#3a3a3a" textLength="10" lengthAdjust="spacingAndGlyphs">PVT1</text>
<line x1="432.00" y1="156.70" x2="453.50" y2="156.70" stroke="#888" stroke-width="0.5" stroke-linecap="butt"/>
<line x1="394.00" y1="159.80" x2="442.00" y2="203.60" stroke="#a9cf86" stroke-width="1.2" stroke-opacity="0.6" stroke-linecap="butt"/>
<line x1="405.00" y1="159.80" x2="426.00" y2="203.60" stroke="#a9cf86" stroke-width="1.2" stroke-opacity="0.6" stroke-linecap="butt"/>
<line x1="414.50" y1="159.80" x2="426.00" y2="203.60" stroke="#5aa83c" stroke-width="1.5" stroke-opacity="0.85" stroke-linecap="butt"/>
<line x1="416.00" y1="159.80" x2="427.00" y2="203.60" stroke="#5aa83c" stroke-width="1.2" stroke-opacity="0.85" stroke-linecap="butt"/>
<line x1="423.00" y1="159.80" x2="424.00" y2="203.60" stroke="#5aa83c" stroke-width="1.2" stroke-opacity="0.85" stroke-linecap="butt"/>
<line x1="425.00" y1="159.80" x2="417.00" y2="203.60" stroke="#c21f2e" stroke-width="1.0" stroke-opacity="0.9" stroke-linecap="butt"/>
<line x1="426.00" y1="159.80" x2="420.00" y2="203.60" stroke="#c21f2e" stroke-width="0.9" stroke-opacity="0.9" stroke-linecap="butt"/>
<line x1="426.50" y1="159.80" x2="423.00" y2="203.60" stroke="#c26a2a" stroke-width="1.6" stroke-opacity="0.9" stroke-linecap="butt"/>
<line x1="427.50" y1="159.80" x2="425.00" y2="203.60" stroke="#c26a2a" stroke-width="1.6" stroke-opacity="0.9" stroke-linecap="butt"/>
<line x1="428.50" y1="159.80" x2="428.00" y2="203.60" stroke="#c26a2a" stroke-width="1.4" stroke-opacity="0.9" stroke-linecap="butt"/>
<line x1="429.50" y1="159.80" x2="427.00" y2="203.60" stroke="#c26a2a" stroke-width="1.2" stroke-opacity="0.9" stroke-linecap="butt"/>
<line x1="431.50" y1="159.80" x2="429.00" y2="203.60" stroke="#c26a2a" stroke-width="1.0" stroke-opacity="0.9" stroke-linecap="butt"/>
<line x1="430.00" y1="159.80" x2="443.00" y2="203.60" stroke="#5aa83c" stroke-width="1.1" stroke-opacity="0.8" stroke-linecap="butt"/>
<line x1="430.00" y1="159.80" x2="453.00" y2="203.60" stroke="#a9cf86" stroke-width="1.3" stroke-opacity="0.6" stroke-linecap="butt"/>
<line x1="431.00" y1="159.80" x2="468.00" y2="203.60" stroke="#a9cf86" stroke-width="1.4" stroke-opacity="0.6" stroke-linecap="butt"/>
<line x1="431.50" y1="159.80" x2="476.00" y2="203.60" stroke="#a9cf86" stroke-width="1.3" stroke-opacity="0.6" stroke-linecap="butt"/>
<line x1="432.00" y1="159.80" x2="495.00" y2="203.60" stroke="#a9cf86" stroke-width="1.3" stroke-opacity="0.6" stroke-linecap="butt"/>
<line x1="408.00" y1="159.80" x2="433.00" y2="203.60" stroke="#c9d6a0" stroke-width="0.7" stroke-opacity="0.8" stroke-linecap="butt"/>
<line x1="420.00" y1="159.80" x2="450.00" y2="203.60" stroke="#a9cf86" stroke-width="1.2" stroke-opacity="0.6" stroke-linecap="butt"/>
<text x="409.4" y="208.6" font-size="4.3" fill="#3a3a3a" color="#3a3a3a" textLength="10.8" lengthAdjust="spacingAndGlyphs">3'RR1</text>
<line x1="414.50" y1="209.30" x2="414.50" y2="210.80" stroke="#888" stroke-width="0.5" stroke-linecap="butt"/>
<text x="423.1" y="208.6" font-size="4.6" fill="#3a3a3a" color="#3a3a3a">E</text>
<text x="426.3" y="208.8" font-size="3.4" fill="#3a3a3a" color="#3a3a3a">mu</text>
<text x="457.4" y="208.6" font-size="4.4" fill="#3a3a3a" color="#3a3a3a" textLength="11.5" lengthAdjust="spacingAndGlyphs">IGH V</text>
<line x1="433.60" y1="210.50" x2="500.30" y2="210.50" stroke="#888" stroke-width="0.5" stroke-linecap="butt"/>
<line x1="386.50" y1="213.70" x2="505.50" y2="213.70" stroke="#2a2a2a" stroke-width="1.2" stroke-linecap="butt"/>
<line x1="392.35" y1="213.70" x2="392.35" y2="216.30" stroke="#2a2a2a" stroke-width="0.9" stroke-linecap="butt"/>
<text x="392.35" y="226" font-size="6.4" fill="#333" color="#333" text-anchor="middle" textLength="14" lengthAdjust="spacingAndGlyphs">–500</text>
<line x1="428.00" y1="213.70" x2="428.00" y2="216.30" stroke="#2a2a2a" stroke-width="0.9" stroke-linecap="butt"/>
<text x="428.0" y="226" font-size="6.4" fill="#333" color="#333" text-anchor="middle" textLength="3.6" lengthAdjust="spacingAndGlyphs">0</text>
<line x1="463.65" y1="213.70" x2="463.65" y2="216.30" stroke="#2a2a2a" stroke-width="0.9" stroke-linecap="butt"/>
<text x="463.65" y="226" font-size="6.4" fill="#333" color="#333" text-anchor="middle" textLength="10.5" lengthAdjust="spacingAndGlyphs">500</text>
<line x1="499.30" y1="213.70" x2="499.30" y2="216.30" stroke="#2a2a2a" stroke-width="0.9" stroke-linecap="butt"/>
<text x="499.3" y="226" font-size="6.4" fill="#333" color="#333" text-anchor="middle" textLength="13.5" lengthAdjust="spacingAndGlyphs">1000</text>
<text x="127.75" y="237.8" font-size="8.6" fill="#2a2a2a" color="#2a2a2a" text-anchor="middle" textLength="82" lengthAdjust="spacingAndGlyphs">Position relative to Emu, kb</text>
<text x="383.4" y="236.8" font-size="8.6" fill="#2a2a2a" color="#2a2a2a" text-anchor="middle" textLength="83.3" lengthAdjust="spacingAndGlyphs">Position relative to Emu, kb</text>
<text x="193.8" y="249.8" font-size="6.6" fill="#444" color="#444" font-style="italic" textLength="42.4" lengthAdjust="spacingAndGlyphs">IGH mechanism</text>
<line x1="239.20" y1="247.50" x2="245.60" y2="247.50" stroke="#f29aaa" stroke-width="0.9" stroke-linecap="butt"/>
<text x="248.6" y="249.9" font-size="6.6" fill="#444" color="#444" textLength="10.7" lengthAdjust="spacingAndGlyphs">CSR</text>
<line x1="266.50" y1="247.50" x2="272.80" y2="247.50" stroke="#d6d6d6" stroke-width="0.9" stroke-linecap="butt"/>
<text x="275.1" y="249.9" font-size="6.6" fill="#444" color="#444" textLength="40.3" lengthAdjust="spacingAndGlyphs">Hypermutation</text>
<line x1="31.50" y1="300.20" x2="31.50" y2="400.60" stroke="#222" stroke-width="1" stroke-linecap="butt"/>
<line x1="28.30" y1="400.60" x2="31.50" y2="400.60" stroke="#222" stroke-width="0.9" stroke-linecap="butt"/>
<text x="25.7" y="403.0" font-size="6.9" fill="#333" color="#333" text-anchor="end" textLength="3.8" lengthAdjust="spacingAndGlyphs">0</text>
<line x1="28.30" y1="378.30" x2="31.50" y2="378.30" stroke="#222" stroke-width="0.9" stroke-linecap="butt"/>
<text x="25.7" y="380.7" font-size="6.9" fill="#333" color="#333" text-anchor="end" textLength="8.3" lengthAdjust="spacingAndGlyphs">20</text>
<line x1="28.30" y1="356.00" x2="31.50" y2="356.00" stroke="#222" stroke-width="0.9" stroke-linecap="butt"/>
<text x="25.7" y="358.4" font-size="6.9" fill="#333" color="#333" text-anchor="end" textLength="8.3" lengthAdjust="spacingAndGlyphs">40</text>
<line x1="28.30" y1="333.70" x2="31.50" y2="333.70" stroke="#222" stroke-width="0.9" stroke-linecap="butt"/>
<text x="25.7" y="336.1" font-size="6.9" fill="#333" color="#333" text-anchor="end" textLength="8.3" lengthAdjust="spacingAndGlyphs">60</text>
<line x1="28.30" y1="311.40" x2="31.50" y2="311.40" stroke="#222" stroke-width="0.9" stroke-linecap="butt"/>
<text x="25.7" y="313.8" font-size="6.9" fill="#333" color="#333" text-anchor="end" textLength="8.3" lengthAdjust="spacingAndGlyphs">80</text>
<text x="13.0" y="350.4" font-size="7.4" fill="#333" color="#333" text-anchor="middle" textLength="44" lengthAdjust="spacingAndGlyphs" transform="rotate(-90 13.0 350.4)">Frequency (%)</text>
<line x1="31.50" y1="400.60" x2="88.10" y2="400.60" stroke="#222" stroke-width="1" stroke-linecap="butt"/>
<line x1="91.00" y1="400.60" x2="147.70" y2="400.60" stroke="#222" stroke-width="1" stroke-linecap="butt"/>
<rect x="31.50" y="282.40" width="56.60" height="11.40" fill="#fff" stroke="#3a3a3a" stroke-width="0.9"/>
<rect x="91.00" y="282.40" width="56.70" height="11.40" fill="#fff" stroke="#3a3a3a" stroke-width="0.9"/>
<text x="59.8" y="290.3" font-size="6.8" fill="#333" color="#333" text-anchor="middle" textLength="31.8" lengthAdjust="spacingAndGlyphs">Breakpoint</text>
<text x="119.35" y="290.3" font-size="6.8" fill="#333" color="#333" text-anchor="middle" textLength="46" lengthAdjust="spacingAndGlyphs">IGH mechanism</text>
<line x1="42.11" y1="400.60" x2="42.11" y2="403.00" stroke="#222" stroke-width="0.9" stroke-linecap="butt"/>
<rect x="34.15" y="310.29" width="7.96" height="90.31" fill="#d9dee6"/>
<rect x="42.11" y="311.40" width="7.96" height="89.20" fill="#5b7893"/>
<text x="44.71" y="409.20000000000005" font-size="7.2" fill="#333" color="#333" text-anchor="end" textLength="29.5" lengthAdjust="spacingAndGlyphs" transform="rotate(-45 44.71 409.20000000000005)">IGH-MYC</text>
<line x1="59.80" y1="400.60" x2="59.80" y2="403.00" stroke="#222" stroke-width="0.9" stroke-linecap="butt"/>
<rect x="51.84" y="394.47" width="7.96" height="6.13" fill="#d9dee6"/>
<rect x="59.80" y="393.13" width="7.96" height="7.47" fill="#5b7893"/>
<text x="62.4" y="409.20000000000005" font-size="7.2" fill="#333" color="#333" text-anchor="end" textLength="29.5" lengthAdjust="spacingAndGlyphs" transform="rotate(-45 62.4 409.20000000000005)">IGK-MYC</text>
<line x1="77.49" y1="400.60" x2="77.49" y2="403.00" stroke="#222" stroke-width="0.9" stroke-linecap="butt"/>
<rect x="69.53" y="387.22" width="7.96" height="13.38" fill="#d9dee6"/>
<rect x="77.49" y="387.22" width="7.96" height="13.38" fill="#5b7893"/>
<text x="80.09" y="409.20000000000005" font-size="7.2" fill="#333" color="#333" text-anchor="end" textLength="29.5" lengthAdjust="spacingAndGlyphs" transform="rotate(-45 80.09 409.20000000000005)">IGL-MYC</text>
<line x1="106.46" y1="400.60" x2="106.46" y2="403.00" stroke="#222" stroke-width="0.9" stroke-linecap="butt"/>
<rect x="94.87" y="333.70" width="11.60" height="66.90" fill="#d9dee6"/>
<rect x="106.46" y="339.28" width="11.60" height="61.33" fill="#5b7893"/>
<text x="109.06" y="409.20000000000005" font-size="7.2" fill="#333" color="#333" text-anchor="end" textLength="12.5" lengthAdjust="spacingAndGlyphs" transform="rotate(-45 109.06 409.20000000000005)">CSR</text>
<line x1="132.24" y1="400.60" x2="132.24" y2="403.00" stroke="#222" stroke-width="0.9" stroke-linecap="butt"/>
<rect x="120.64" y="356.00" width="11.60" height="44.60" fill="#d9dee6"/>
<rect x="132.24" y="350.43" width="11.60" height="50.17" fill="#5b7893"/>
<text x="134.84" y="409.20000000000005" font-size="7.2" fill="#333" color="#333" text-anchor="end" textLength="47" lengthAdjust="spacingAndGlyphs" transform="rotate(-45 134.84 409.20000000000005)">Hypermutation</text>
<line x1="31.50" y1="400.60" x2="88.10" y2="400.60" stroke="#222" stroke-width="1" stroke-linecap="butt"/>
<line x1="91.00" y1="400.60" x2="147.70" y2="400.60" stroke="#222" stroke-width="1" stroke-linecap="butt"/>
<line x1="31.50" y1="300.20" x2="31.50" y2="400.60" stroke="#222" stroke-width="1" stroke-linecap="butt"/>
<text x="41.7" y="456" font-size="6.6" fill="#444" color="#444" font-style="italic" textLength="28.5" lengthAdjust="spacingAndGlyphs">Age group</text>
<rect x="73.70" y="450.80" width="6.40" height="6.20" fill="#d9dee6"/>
<text x="83.1" y="456.1" font-size="6.6" fill="#444" color="#444" textLength="14.7" lengthAdjust="spacingAndGlyphs">Adult</text>
<rect x="104.20" y="450.80" width="6.40" height="6.20" fill="#5b7893"/>
<text x="113.7" y="456.1" font-size="6.6" fill="#444" color="#444" textLength="23.4" lengthAdjust="spacingAndGlyphs">Pediatric</text>
<line x1="188.30" y1="300.20" x2="188.30" y2="400.60" stroke="#222" stroke-width="1" stroke-linecap="butt"/>
<line x1="185.10" y1="400.60" x2="188.30" y2="400.60" stroke="#222" stroke-width="0.9" stroke-linecap="butt"/>
<text x="182.5" y="403.0" font-size="6.9" fill="#333" color="#333" text-anchor="end" textLength="3.8" lengthAdjust="spacingAndGlyphs">0</text>
<line x1="185.10" y1="378.30" x2="188.30" y2="378.30" stroke="#222" stroke-width="0.9" stroke-linecap="butt"/>
<text x="182.5" y="380.7" font-size="6.9" fill="#333" color="#333" text-anchor="end" textLength="8.3" lengthAdjust="spacingAndGlyphs">20</text>
<line x1="185.10" y1="356.00" x2="188.30" y2="356.00" stroke="#222" stroke-width="0.9" stroke-linecap="butt"/>
<text x="182.5" y="358.4" font-size="6.9" fill="#333" color="#333" text-anchor="end" textLength="8.3" lengthAdjust="spacingAndGlyphs">40</text>
<line x1="185.10" y1="333.70" x2="188.30" y2="333.70" stroke="#222" stroke-width="0.9" stroke-linecap="butt"/>
<text x="182.5" y="336.1" font-size="6.9" fill="#333" color="#333" text-anchor="end" textLength="8.3" lengthAdjust="spacingAndGlyphs">60</text>
<line x1="185.10" y1="311.40" x2="188.30" y2="311.40" stroke="#222" stroke-width="0.9" stroke-linecap="butt"/>
<text x="182.5" y="313.8" font-size="6.9" fill="#333" color="#333" text-anchor="end" textLength="8.3" lengthAdjust="spacingAndGlyphs">80</text>
<text x="168.4" y="350.4" font-size="7.4" fill="#333" color="#333" text-anchor="middle" textLength="44" lengthAdjust="spacingAndGlyphs" transform="rotate(-90 168.4 350.4)">Frequency (%)</text>
<line x1="188.30" y1="400.60" x2="244.90" y2="400.60" stroke="#222" stroke-width="1" stroke-linecap="butt"/>
<line x1="247.80" y1="400.60" x2="304.50" y2="400.60" stroke="#222" stroke-width="1" stroke-linecap="butt"/>
<rect x="188.30" y="282.40" width="56.60" height="11.40" fill="#fff" stroke="#3a3a3a" stroke-width="0.9"/>
<rect x="247.80" y="282.40" width="56.70" height="11.40" fill="#fff" stroke="#3a3a3a" stroke-width="0.9"/>
<text x="216.60000000000002" y="290.3" font-size="6.8" fill="#333" color="#333" text-anchor="middle" textLength="31.8" lengthAdjust="spacingAndGlyphs">Breakpoint</text>
<text x="276.15" y="290.3" font-size="6.8" fill="#333" color="#333" text-anchor="middle" textLength="46" lengthAdjust="spacingAndGlyphs">IGH mechanism</text>
<line x1="198.91" y1="400.60" x2="198.91" y2="403.00" stroke="#222" stroke-width="0.9" stroke-linecap="butt"/>
<rect x="190.95" y="308.06" width="7.96" height="92.55" fill="#f2a2c6"/>
<rect x="198.91" y="313.63" width="7.96" height="86.97" fill="#99105e"/>
<text x="201.51" y="409.20000000000005" font-size="7.2" fill="#333" color="#333" text-anchor="end" textLength="29.5" lengthAdjust="spacingAndGlyphs" transform="rotate(-45 201.51 409.20000000000005)">IGH-MYC</text>
<line x1="216.60" y1="400.60" x2="216.60" y2="403.00" stroke="#222" stroke-width="0.9" stroke-linecap="butt"/>
<rect x="208.64" y="395.03" width="7.96" height="5.58" fill="#f2a2c6"/>
<rect x="216.60" y="391.68" width="7.96" height="8.92" fill="#99105e"/>
<text x="219.2" y="409.20000000000005" font-size="7.2" fill="#333" color="#333" text-anchor="end" textLength="29.5" lengthAdjust="spacingAndGlyphs" transform="rotate(-45 219.2 409.20000000000005)">IGK-MYC</text>
<line x1="234.29" y1="400.60" x2="234.29" y2="403.00" stroke="#222" stroke-width="0.9" stroke-linecap="butt"/>
<rect x="226.33" y="388.34" width="7.96" height="12.27" fill="#f2a2c6"/>
<rect x="234.29" y="386.11" width="7.96" height="14.49" fill="#99105e"/>
<text x="236.89" y="409.20000000000005" font-size="7.2" fill="#333" color="#333" text-anchor="end" textLength="29.5" lengthAdjust="spacingAndGlyphs" transform="rotate(-45 236.89 409.20000000000005)">IGL-MYC</text>
<line x1="263.26" y1="400.60" x2="263.26" y2="403.00" stroke="#222" stroke-width="0.9" stroke-linecap="butt"/>
<rect x="251.67" y="321.44" width="11.60" height="79.17" fill="#f2a2c6"/>
<rect x="263.26" y="352.66" width="11.60" height="47.95" fill="#99105e"/>
<text x="265.86" y="409.20000000000005" font-size="7.2" fill="#333" color="#333" text-anchor="end" textLength="12.5" lengthAdjust="spacingAndGlyphs" transform="rotate(-45 265.86 409.20000000000005)">CSR</text>
<line x1="289.04" y1="400.60" x2="289.04" y2="403.00" stroke="#222" stroke-width="0.9" stroke-linecap="butt"/>
<rect x="277.44" y="368.27" width="11.60" height="32.34" fill="#f2a2c6"/>
<rect x="289.04" y="337.05" width="11.60" height="63.55" fill="#99105e"/>
<text x="291.64" y="409.20000000000005" font-size="7.2" fill="#333" color="#333" text-anchor="end" textLength="47" lengthAdjust="spacingAndGlyphs" transform="rotate(-45 291.64 409.20000000000005)">Hypermutation</text>
<line x1="188.30" y1="400.60" x2="244.90" y2="400.60" stroke="#222" stroke-width="1" stroke-linecap="butt"/>
<line x1="247.80" y1="400.60" x2="304.50" y2="400.60" stroke="#222" stroke-width="1" stroke-linecap="butt"/>
<line x1="188.30" y1="300.20" x2="188.30" y2="400.60" stroke="#222" stroke-width="1" stroke-linecap="butt"/>
<line x1="256.70" y1="316.90" x2="269.70" y2="316.90" stroke="#222" stroke-width="0.8" stroke-linecap="butt"/>
<text x="262.5" y="316.1" font-size="9" fill="#2a2a2a" color="#2a2a2a" text-anchor="middle" font-weight="bold" textLength="6.8" lengthAdjust="spacingAndGlyphs">**</text>
<line x1="282.20" y1="331.30" x2="295.20" y2="331.30" stroke="#222" stroke-width="0.8" stroke-linecap="butt"/>
<text x="289.55" y="331.6" font-size="9" fill="#2a2a2a" color="#2a2a2a" text-anchor="middle" font-weight="bold" textLength="6.8" lengthAdjust="spacingAndGlyphs">**</text>
<text x="182.2" y="456" font-size="6.6" fill="#444" color="#444" font-style="italic" textLength="29" lengthAdjust="spacingAndGlyphs">EBV status</text>
<rect x="213.90" y="450.80" width="6.40" height="6.20" fill="#f2a2c6"/>
<text x="223.7" y="456.1" font-size="6.6" fill="#444" color="#444" textLength="36" lengthAdjust="spacingAndGlyphs">EBV-negative</text>
<rect x="266.20" y="450.80" width="6.40" height="6.20" fill="#99105e"/>
<text x="275" y="456.1" font-size="6.6" fill="#444" color="#444" textLength="35.3" lengthAdjust="spacingAndGlyphs">EBV-positive</text>
<line x1="347.20" y1="300.20" x2="347.20" y2="450.60" stroke="#222" stroke-width="1" stroke-linecap="butt"/>
<line x1="344.00" y1="450.60" x2="347.20" y2="450.60" stroke="#222" stroke-width="0.9" stroke-linecap="butt"/>
<text x="341.4" y="453.0" font-size="6.9" fill="#333" color="#333" text-anchor="end" textLength="4.2" lengthAdjust="spacingAndGlyphs">0</text>
<line x1="344.00" y1="403.60" x2="347.20" y2="403.60" stroke="#222" stroke-width="0.9" stroke-linecap="butt"/>
<text x="341.4" y="406.0" font-size="6.9" fill="#333" color="#333" text-anchor="end" textLength="4.2" lengthAdjust="spacingAndGlyphs">5</text>
<line x1="344.00" y1="356.60" x2="347.20" y2="356.60" stroke="#222" stroke-width="0.9" stroke-linecap="butt"/>
<text x="341.4" y="359.0" font-size="6.9" fill="#333" color="#333" text-anchor="end" textLength="9.0" lengthAdjust="spacingAndGlyphs">10</text>
<line x1="344.00" y1="309.60" x2="347.20" y2="309.60" stroke="#222" stroke-width="0.9" stroke-linecap="butt"/>
<text x="341.4" y="312.0" font-size="6.9" fill="#333" color="#333" text-anchor="end" textLength="9.0" lengthAdjust="spacingAndGlyphs">15</text>
<text x="327.2" y="373.2" font-size="7.6" fill="#333" color="#333" text-anchor="middle" textLength="131.5" lengthAdjust="spacingAndGlyphs" transform="rotate(-90 327.2 373.2)">AICDA expression (variance-stabilized)</text>
<rect x="347.20" y="282.60" width="84.70" height="11.20" fill="#fff" stroke="#3a3a3a" stroke-width="0.9"/>
<text x="389.54999999999995" y="290.5" font-size="6.8" fill="#333" color="#333" text-anchor="middle" textLength="15.2" lengthAdjust="spacingAndGlyphs">Adult</text>
<line x1="347.20" y1="450.60" x2="431.90" y2="450.60" stroke="#222" stroke-width="1" stroke-linecap="butt"/>
<rect x="434.70" y="282.60" width="84.90" height="11.20" fill="#fff" stroke="#3a3a3a" stroke-width="0.9"/>
<text x="477.15" y="290.5" font-size="6.8" fill="#333" color="#333" text-anchor="middle" textLength="25.6" lengthAdjust="spacingAndGlyphs">Pediatric</text>
<line x1="434.70" y1="450.60" x2="519.60" y2="450.60" stroke="#222" stroke-width="1" stroke-linecap="butt"/>
<line x1="370.90" y1="450.60" x2="370.90" y2="453.00" stroke="#222" stroke-width="0.9" stroke-linecap="butt"/>
<rect x="356.40" y="356.60" width="29.00" height="13.63" fill="#f2a2c6"/>
<line x1="356.40" y1="361.77" x2="385.40" y2="361.77" stroke="#5a1238" stroke-width="1.1" stroke-linecap="butt"/>
<circle cx="372.13" cy="374.62" r="0.9" fill="#111"/>
<circle cx="372.77" cy="374.29" r="0.9" fill="#111"/>
<circle cx="368.09" cy="363.33" r="0.9" fill="#111"/>
<circle cx="370.79" cy="379.16" r="0.9" fill="#111"/>
<circle cx="372.40" cy="346.98" r="0.9" fill="#111"/>
<circle cx="368.74" cy="367.27" r="0.9" fill="#111"/>
<circle cx="371.13" cy="369.82" r="0.9" fill="#111"/>
<circle cx="371.34" cy="360.19" r="0.9" fill="#111"/>
<circle cx="369.74" cy="354.17" r="0.9" fill="#111"/>
<circle cx="373.40" cy="361.14" r="0.9" fill="#111"/>
<circle cx="372.68" cy="361.14" r="0.9" fill="#111"/>
<circle cx="368.93" cy="368.17" r="0.9" fill="#111"/>
<circle cx="368.03" cy="365.97" r="0.9" fill="#111"/>
<circle cx="373.05" cy="365.59" r="0.9" fill="#111"/>
<circle cx="373.77" cy="359.86" r="0.9" fill="#111"/>
<circle cx="372.87" cy="354.42" r="0.9" fill="#111"/>
<circle cx="371.11" cy="368.57" r="0.9" fill="#111"/>
<circle cx="371.48" cy="344.38" r="0.9" fill="#111"/>
<circle cx="371.91" cy="354.50" r="0.9" fill="#111"/>
<circle cx="372.41" cy="344.38" r="0.9" fill="#111"/>
<circle cx="370.16" cy="354.56" r="0.9" fill="#111"/>
<circle cx="369.04" cy="367.46" r="0.9" fill="#111"/>
<circle cx="369.73" cy="359.33" r="0.9" fill="#111"/>
<circle cx="371.50" cy="358.60" r="0.9" fill="#111"/>
<circle cx="370.35" cy="345.36" r="0.9" fill="#111"/>
<circle cx="369.76" cy="361.42" r="0.9" fill="#111"/>
<circle cx="369.86" cy="356.56" r="0.9" fill="#111"/>
<circle cx="370.82" cy="373.11" r="0.9" fill="#111"/>
<circle cx="373.74" cy="362.82" r="0.9" fill="#111"/>
<circle cx="368.12" cy="365.36" r="0.9" fill="#111"/>
<circle cx="368.01" cy="361.80" r="0.9" fill="#111"/>
<circle cx="371.83" cy="379.16" r="0.9" fill="#111"/>
<circle cx="368.51" cy="371.33" r="0.9" fill="#111"/>
<circle cx="368.80" cy="351.09" r="0.9" fill="#111"/>
<circle cx="369.54" cy="350.34" r="0.9" fill="#111"/>
<circle cx="371.73" cy="344.38" r="0.9" fill="#111"/>
<circle cx="370.40" cy="344.38" r="0.9" fill="#111"/>
<circle cx="370.24" cy="372.90" r="0.9" fill="#111"/>
<circle cx="369.63" cy="379.16" r="0.9" fill="#111"/>
<circle cx="372.36" cy="364.68" r="0.9" fill="#111"/>
<circle cx="368.37" cy="355.45" r="0.9" fill="#111"/>
<circle cx="372.34" cy="379.16" r="0.9" fill="#111"/>
<circle cx="371.47" cy="353.41" r="0.9" fill="#111"/>
<circle cx="373.24" cy="356.37" r="0.9" fill="#111"/>
<circle cx="371.08" cy="375.04" r="0.9" fill="#111"/>
<circle cx="370.29" cy="344.38" r="0.9" fill="#111"/>
<circle cx="368.42" cy="364.55" r="0.9" fill="#111"/>
<circle cx="368.98" cy="355.55" r="0.9" fill="#111"/>
<circle cx="369.56" cy="375.53" r="0.9" fill="#111"/>
<circle cx="369.44" cy="379.16" r="0.9" fill="#111"/>
<circle cx="370.52" cy="348.35" r="0.9" fill="#111"/>
<circle cx="369.33" cy="362.89" r="0.9" fill="#111"/>
<circle cx="370.75" cy="378.72" r="0.9" fill="#111"/>
<circle cx="370.55" cy="373.13" r="0.9" fill="#111"/>
<circle cx="369.39" cy="344.38" r="0.9" fill="#111"/>
<circle cx="370.87" cy="353.45" r="0.9" fill="#111"/>
<circle cx="372.26" cy="358.73" r="0.9" fill="#111"/>
<circle cx="373.45" cy="366.67" r="0.9" fill="#111"/>
<circle cx="369.28" cy="374.88" r="0.9" fill="#111"/>
<circle cx="370.64" cy="375.80" r="0.9" fill="#111"/>
<circle cx="371.40" cy="344.38" r="0.8" fill="#111"/>
<circle cx="370.40" cy="379.16" r="0.8" fill="#111"/>
<line x1="409.20" y1="450.60" x2="409.20" y2="453.00" stroke="#222" stroke-width="0.9" stroke-linecap="butt"/>
<rect x="394.70" y="346.26" width="29.00" height="5.64" fill="#99105e"/>
<line x1="394.70" y1="349.08" x2="423.70" y2="349.08" stroke="#3a0520" stroke-width="1.1" stroke-linecap="butt"/>
<circle cx="408.32" cy="343.93" r="0.9" fill="#111"/>
<circle cx="409.04" cy="342.06" r="0.9" fill="#111"/>
<circle cx="410.45" cy="340.26" r="0.9" fill="#111"/>
<circle cx="408.92" cy="349.12" r="0.9" fill="#111"/>
<circle cx="409.13" cy="356.36" r="0.9" fill="#111"/>
<circle cx="407.95" cy="348.54" r="0.9" fill="#111"/>
<circle cx="408.50" cy="351.17" r="0.9" fill="#111"/>
<circle cx="412.05" cy="347.64" r="0.9" fill="#111"/>
<circle cx="409.20" cy="342.94" r="0.9" fill="#111"/>
<circle cx="408.26" cy="350.66" r="0.9" fill="#111"/>
<circle cx="410.69" cy="346.03" r="0.9" fill="#111"/>
<circle cx="411.30" cy="347.17" r="0.9" fill="#111"/>
<circle cx="410.38" cy="354.18" r="0.9" fill="#111"/>
<circle cx="409.94" cy="343.02" r="0.9" fill="#111"/>
<circle cx="408.53" cy="353.00" r="0.9" fill="#111"/>
<circle cx="409.93" cy="355.61" r="0.9" fill="#111"/>
<circle cx="410.80" cy="350.08" r="0.9" fill="#111"/>
<circle cx="410.02" cy="343.97" r="0.9" fill="#111"/>
<circle cx="410.00" cy="352.04" r="0.9" fill="#111"/>
<circle cx="409.37" cy="338.60" r="0.9" fill="#111"/>
<circle cx="408.20" cy="343.42" r="0.9" fill="#111"/>
<circle cx="410.23" cy="348.67" r="0.9" fill="#111"/>
<circle cx="409.63" cy="357.17" r="0.9" fill="#111"/>
<circle cx="410.90" cy="347.16" r="0.9" fill="#111"/>
<circle cx="409.70" cy="335.92" r="0.8" fill="#111"/>
<circle cx="408.70" cy="364.12" r="0.8" fill="#111"/>
<line x1="457.60" y1="450.60" x2="457.60" y2="453.00" stroke="#222" stroke-width="0.9" stroke-linecap="butt"/>
<rect x="443.10" y="359.89" width="29.00" height="9.87" fill="#f2a2c6"/>
<line x1="443.10" y1="365.06" x2="472.10" y2="365.06" stroke="#5a1238" stroke-width="1.1" stroke-linecap="butt"/>
<circle cx="458.78" cy="371.61" r="0.9" fill="#111"/>
<circle cx="458.97" cy="355.79" r="0.9" fill="#111"/>
<circle cx="459.18" cy="373.99" r="0.9" fill="#111"/>
<circle cx="458.23" cy="352.77" r="0.9" fill="#111"/>
<circle cx="457.64" cy="345.51" r="0.9" fill="#111"/>
<circle cx="457.77" cy="368.02" r="0.9" fill="#111"/>
<circle cx="459.65" cy="357.50" r="0.9" fill="#111"/>
<circle cx="457.53" cy="352.07" r="0.9" fill="#111"/>
<circle cx="458.86" cy="369.59" r="0.9" fill="#111"/>
<circle cx="456.46" cy="376.81" r="0.9" fill="#111"/>
<circle cx="458.58" cy="363.08" r="0.9" fill="#111"/>
<circle cx="457.29" cy="375.28" r="0.9" fill="#111"/>
<circle cx="458.15" cy="374.78" r="0.9" fill="#111"/>
<circle cx="458.50" cy="374.62" r="0.9" fill="#111"/>
<circle cx="457.28" cy="360.47" r="0.9" fill="#111"/>
<circle cx="458.50" cy="364.25" r="0.9" fill="#111"/>
<circle cx="458.37" cy="362.74" r="0.9" fill="#111"/>
<circle cx="456.02" cy="353.27" r="0.9" fill="#111"/>
<circle cx="455.27" cy="370.63" r="0.9" fill="#111"/>
<circle cx="455.41" cy="364.06" r="0.9" fill="#111"/>
<circle cx="455.79" cy="367.11" r="0.9" fill="#111"/>
<circle cx="455.06" cy="360.50" r="0.9" fill="#111"/>
<circle cx="458.12" cy="372.60" r="0.9" fill="#111"/>
<circle cx="458.13" cy="363.39" r="0.9" fill="#111"/>
<circle cx="454.63" cy="363.76" r="0.9" fill="#111"/>
<circle cx="457.38" cy="348.05" r="0.9" fill="#111"/>
<circle cx="455.31" cy="366.51" r="0.9" fill="#111"/>
<circle cx="459.11" cy="357.08" r="0.9" fill="#111"/>
<circle cx="458.27" cy="366.56" r="0.9" fill="#111"/>
<circle cx="455.19" cy="363.54" r="0.9" fill="#111"/>
<circle cx="457.99" cy="371.96" r="0.9" fill="#111"/>
<circle cx="460.30" cy="367.08" r="0.9" fill="#111"/>
<circle cx="459.38" cy="361.63" r="0.9" fill="#111"/>
<circle cx="458.27" cy="372.54" r="0.9" fill="#111"/>
<circle cx="458.15" cy="368.04" r="0.9" fill="#111"/>
<circle cx="457.97" cy="361.86" r="0.9" fill="#111"/>
<circle cx="457.81" cy="345.09" r="0.9" fill="#111"/>
<circle cx="456.82" cy="370.56" r="0.9" fill="#111"/>
<circle cx="455.25" cy="364.79" r="0.9" fill="#111"/>
<circle cx="457.99" cy="365.27" r="0.9" fill="#111"/>
<circle cx="458.34" cy="368.32" r="0.9" fill="#111"/>
<circle cx="459.86" cy="367.94" r="0.9" fill="#111"/>
<circle cx="458.10" cy="338.74" r="0.8" fill="#111"/>
<circle cx="457.10" cy="381.98" r="0.8" fill="#111"/>
<line x1="496.30" y1="450.60" x2="496.30" y2="453.00" stroke="#222" stroke-width="0.9" stroke-linecap="butt"/>
<rect x="481.80" y="345.32" width="29.00" height="7.52" fill="#99105e"/>
<line x1="481.80" y1="349.08" x2="510.80" y2="349.08" stroke="#3a0520" stroke-width="1.1" stroke-linecap="butt"/>
<circle cx="494.54" cy="353.63" r="0.9" fill="#111"/>
<circle cx="494.96" cy="344.58" r="0.9" fill="#111"/>
<circle cx="499.00" cy="343.29" r="0.9" fill="#111"/>
<circle cx="499.38" cy="350.09" r="0.9" fill="#111"/>
<circle cx="499.52" cy="352.93" r="0.9" fill="#111"/>
<circle cx="496.27" cy="351.72" r="0.9" fill="#111"/>
<circle cx="499.41" cy="353.63" r="0.9" fill="#111"/>
<circle cx="496.24" cy="346.41" r="0.9" fill="#111"/>
<circle cx="493.52" cy="350.63" r="0.9" fill="#111"/>
<circle cx="496.96" cy="342.41" r="0.9" fill="#111"/>
<circle cx="498.09" cy="353.78" r="0.9" fill="#111"/>
<circle cx="498.69" cy="347.34" r="0.9" fill="#111"/>
<circle cx="495.15" cy="341.69" r="0.9" fill="#111"/>
<circle cx="499.55" cy="348.47" r="0.9" fill="#111"/>
<circle cx="494.57" cy="348.18" r="0.9" fill="#111"/>
<circle cx="494.07" cy="353.51" r="0.9" fill="#111"/>
<circle cx="496.97" cy="344.08" r="0.9" fill="#111"/>
<circle cx="496.11" cy="349.43" r="0.9" fill="#111"/>
<circle cx="497.81" cy="354.10" r="0.9" fill="#111"/>
<circle cx="494.19" cy="355.55" r="0.9" fill="#111"/>
<circle cx="496.55" cy="348.75" r="0.9" fill="#111"/>
<circle cx="495.29" cy="354.16" r="0.9" fill="#111"/>
<circle cx="496.04" cy="351.22" r="0.9" fill="#111"/>
<circle cx="495.57" cy="342.01" r="0.9" fill="#111"/>
<circle cx="492.82" cy="349.33" r="0.9" fill="#111"/>
<circle cx="495.12" cy="357.12" r="0.9" fill="#111"/>
<circle cx="497.44" cy="361.97" r="0.9" fill="#111"/>
<circle cx="496.61" cy="345.39" r="0.9" fill="#111"/>
<circle cx="496.03" cy="338.68" r="0.9" fill="#111"/>
<circle cx="496.86" cy="348.13" r="0.9" fill="#111"/>
<circle cx="496.17" cy="351.29" r="0.9" fill="#111"/>
<circle cx="498.23" cy="357.30" r="0.9" fill="#111"/>
<circle cx="498.56" cy="353.59" r="0.9" fill="#111"/>
<circle cx="494.28" cy="345.13" r="0.9" fill="#111"/>
<circle cx="493.30" cy="352.34" r="0.9" fill="#111"/>
<circle cx="497.50" cy="338.23" r="0.9" fill="#111"/>
<circle cx="494.76" cy="351.26" r="0.9" fill="#111"/>
<circle cx="497.91" cy="355.10" r="0.9" fill="#111"/>
<circle cx="496.15" cy="346.25" r="0.9" fill="#111"/>
<circle cx="496.66" cy="350.86" r="0.9" fill="#111"/>
<circle cx="494.21" cy="354.47" r="0.9" fill="#111"/>
<circle cx="496.94" cy="349.00" r="0.9" fill="#111"/>
<circle cx="494.29" cy="348.22" r="0.9" fill="#111"/>
<circle cx="498.62" cy="351.18" r="0.9" fill="#111"/>
<circle cx="492.88" cy="346.78" r="0.9" fill="#111"/>
<circle cx="497.31" cy="357.66" r="0.9" fill="#111"/>
<circle cx="496.99" cy="337.80" r="0.9" fill="#111"/>
<circle cx="493.12" cy="351.95" r="0.9" fill="#111"/>
<circle cx="497.35" cy="346.77" r="0.9" fill="#111"/>
<circle cx="499.38" cy="352.62" r="0.9" fill="#111"/>
<circle cx="494.75" cy="349.84" r="0.9" fill="#111"/>
<circle cx="499.21" cy="352.23" r="0.9" fill="#111"/>
<circle cx="495.76" cy="344.21" r="0.9" fill="#111"/>
<circle cx="494.46" cy="342.40" r="0.9" fill="#111"/>
<circle cx="493.40" cy="350.37" r="0.9" fill="#111"/>
<circle cx="495.40" cy="350.33" r="0.9" fill="#111"/>
<circle cx="496.85" cy="347.22" r="0.9" fill="#111"/>
<circle cx="498.11" cy="348.17" r="0.9" fill="#111"/>
<circle cx="495.81" cy="346.75" r="0.9" fill="#111"/>
<circle cx="494.96" cy="351.31" r="0.9" fill="#111"/>
<circle cx="498.90" cy="354.72" r="0.9" fill="#111"/>
<circle cx="495.47" cy="353.19" r="0.9" fill="#111"/>
<circle cx="494.75" cy="340.34" r="0.9" fill="#111"/>
<circle cx="497.21" cy="345.89" r="0.9" fill="#111"/>
<circle cx="496.46" cy="362.29" r="0.9" fill="#111"/>
<circle cx="497.20" cy="349.57" r="0.9" fill="#111"/>
<circle cx="494.46" cy="349.71" r="0.9" fill="#111"/>
<circle cx="497.55" cy="341.49" r="0.9" fill="#111"/>
<circle cx="494.46" cy="352.29" r="0.9" fill="#111"/>
<circle cx="495.33" cy="349.42" r="0.9" fill="#111"/>
<circle cx="497.90" cy="349.39" r="0.9" fill="#111"/>
<circle cx="497.34" cy="352.85" r="0.9" fill="#111"/>
<circle cx="494.28" cy="341.40" r="0.9" fill="#111"/>
<circle cx="493.89" cy="344.52" r="0.9" fill="#111"/>
<circle cx="498.85" cy="352.77" r="0.9" fill="#111"/>
<circle cx="496.16" cy="351.55" r="0.9" fill="#111"/>
<circle cx="493.33" cy="353.85" r="0.9" fill="#111"/>
<circle cx="497.21" cy="339.46" r="0.9" fill="#111"/>
<circle cx="499.43" cy="345.83" r="0.9" fill="#111"/>
<circle cx="497.64" cy="347.94" r="0.9" fill="#111"/>
<circle cx="499.84" cy="348.58" r="0.9" fill="#111"/>
<circle cx="497.46" cy="346.13" r="0.9" fill="#111"/>
<circle cx="497.22" cy="347.66" r="0.9" fill="#111"/>
<circle cx="495.28" cy="352.06" r="0.9" fill="#111"/>
<circle cx="497.15" cy="348.57" r="0.9" fill="#111"/>
<circle cx="495.39" cy="343.69" r="0.9" fill="#111"/>
<circle cx="498.67" cy="351.53" r="0.9" fill="#111"/>
<circle cx="497.37" cy="346.94" r="0.9" fill="#111"/>
<circle cx="498.84" cy="346.93" r="0.9" fill="#111"/>
<circle cx="496.40" cy="355.12" r="0.9" fill="#111"/>
<circle cx="497.62" cy="355.64" r="0.9" fill="#111"/>
<circle cx="495.62" cy="353.40" r="0.9" fill="#111"/>
<circle cx="494.10" cy="347.80" r="0.9" fill="#111"/>
<circle cx="492.87" cy="348.19" r="0.9" fill="#111"/>
<circle cx="497.88" cy="343.79" r="0.9" fill="#111"/>
<circle cx="493.07" cy="353.50" r="0.9" fill="#111"/>
<circle cx="496.67" cy="361.49" r="0.9" fill="#111"/>
<circle cx="495.79" cy="346.73" r="0.9" fill="#111"/>
<circle cx="493.85" cy="351.77" r="0.9" fill="#111"/>
<circle cx="493.75" cy="348.49" r="0.9" fill="#111"/>
<circle cx="498.80" cy="353.27" r="0.9" fill="#111"/>
<circle cx="494.02" cy="344.87" r="0.9" fill="#111"/>
<circle cx="493.76" cy="349.20" r="0.9" fill="#111"/>
<circle cx="494.96" cy="344.23" r="0.9" fill="#111"/>
<circle cx="492.80" cy="348.44" r="0.9" fill="#111"/>
<circle cx="498.56" cy="342.21" r="0.9" fill="#111"/>
<circle cx="497.06" cy="358.72" r="0.9" fill="#111"/>
<circle cx="496.95" cy="338.68" r="0.9" fill="#111"/>
<circle cx="495.29" cy="363.36" r="0.9" fill="#111"/>
<circle cx="497.50" cy="346.52" r="0.9" fill="#111"/>
<circle cx="497.95" cy="351.38" r="0.9" fill="#111"/>
<circle cx="494.80" cy="340.37" r="0.9" fill="#111"/>
<circle cx="494.28" cy="348.67" r="0.9" fill="#111"/>
<circle cx="493.18" cy="347.79" r="0.9" fill="#111"/>
<circle cx="495.91" cy="362.27" r="0.9" fill="#111"/>
<circle cx="495.52" cy="339.64" r="0.9" fill="#111"/>
<circle cx="497.76" cy="353.89" r="0.9" fill="#111"/>
<circle cx="497.92" cy="348.10" r="0.9" fill="#111"/>
<circle cx="497.54" cy="346.77" r="0.9" fill="#111"/>
<circle cx="499.26" cy="345.26" r="0.9" fill="#111"/>
<circle cx="496.80" cy="337.80" r="0.8" fill="#111"/>
<circle cx="495.80" cy="367.88" r="0.8" fill="#111"/>
<circle cx="496" cy="392.32" r="0.8" fill="#111"/>
<text x="371.5" y="460.2" font-size="6.0" fill="#333" color="#333" text-anchor="middle" textLength="32.4" lengthAdjust="spacingAndGlyphs">EBV-negative</text>
<text x="408.3" y="460.2" font-size="6.0" fill="#333" color="#333" text-anchor="middle" textLength="31.0" lengthAdjust="spacingAndGlyphs">EBV-positive</text>
<text x="463.2" y="460.2" font-size="6.0" fill="#333" color="#333" text-anchor="middle" textLength="32.4" lengthAdjust="spacingAndGlyphs">EBV-negative</text>
<text x="500.2" y="460.2" font-size="6.0" fill="#333" color="#333" text-anchor="middle" textLength="31.0" lengthAdjust="spacingAndGlyphs">EBV-positive</text>
<line x1="371.00" y1="325.60" x2="409.60" y2="325.60" stroke="#222" stroke-width="0.8" stroke-linecap="butt"/>
<text x="388.0" y="323.8" font-size="9.8" fill="#2a2a2a" color="#2a2a2a" text-anchor="middle" font-weight="bold" textLength="11.4" lengthAdjust="spacingAndGlyphs">***</text>
<line x1="457.90" y1="325.40" x2="496.20" y2="325.40" stroke="#222" stroke-width="0.8" stroke-linecap="butt"/>
<text x="475.2" y="323.8" font-size="9.8" fill="#2a2a2a" color="#2a2a2a" text-anchor="middle" font-weight="bold" textLength="11.4" lengthAdjust="spacingAndGlyphs">***</text></svg>
</body></html>
